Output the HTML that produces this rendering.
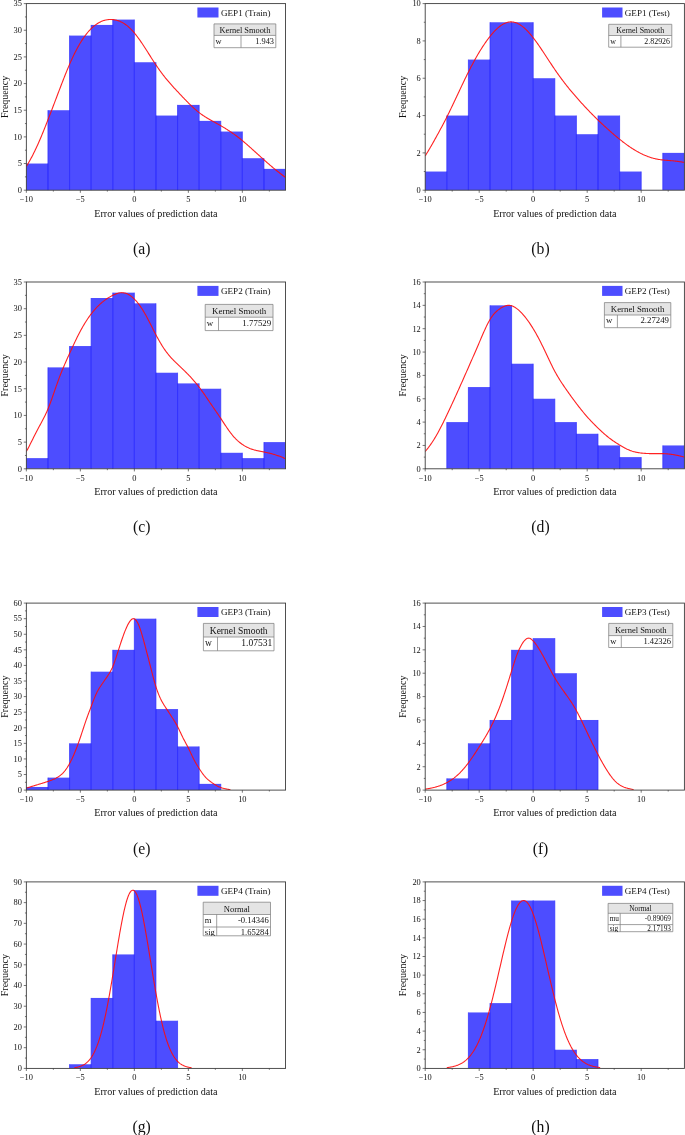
<!DOCTYPE html>
<html><head><meta charset="utf-8"><title>Histograms of prediction errors</title>
<style>
html,body{margin:0;padding:0;background:#fff;}
svg{display:block;will-change:transform;font-family:"Liberation Serif",serif;}
</style></head><body>
<svg width="685" height="1135" viewBox="0 0 685 1135">
<rect width="685" height="1135" fill="#fff"/>
<g>
<clipPath id="ca"><rect x="26.35" y="3.6" width="259.2" height="186.6"/></clipPath>
<g clip-path="url(#ca)">
<rect x="26.35" y="163.54" width="21.6" height="26.66" fill="#4d4dff"/>
<rect x="47.95" y="110.23" width="21.6" height="79.97" fill="#4d4dff"/>
<rect x="69.55" y="35.59" width="21.6" height="154.61" fill="#4d4dff"/>
<rect x="91.15" y="24.93" width="21.6" height="165.27" fill="#4d4dff"/>
<rect x="112.75" y="19.59" width="21.6" height="170.61" fill="#4d4dff"/>
<rect x="134.35" y="62.25" width="21.6" height="127.95" fill="#4d4dff"/>
<rect x="155.95" y="115.56" width="21.6" height="74.64" fill="#4d4dff"/>
<rect x="177.55" y="104.9" width="21.6" height="85.3" fill="#4d4dff"/>
<rect x="199.15" y="120.89" width="21.6" height="69.31" fill="#4d4dff"/>
<rect x="220.75" y="131.55" width="21.6" height="58.65" fill="#4d4dff"/>
<rect x="242.35" y="158.21" width="21.6" height="31.99" fill="#4d4dff"/>
<rect x="263.95" y="168.87" width="21.6" height="21.33" fill="#4d4dff"/>
<path d="M26.35 190.2V163.54M47.95 190.2V163.54M47.95 190.2V110.23M69.55 190.2V110.23M69.55 190.2V35.59M91.15 190.2V35.59M91.15 190.2V24.93M112.75 190.2V24.93M112.75 190.2V19.59M134.35 190.2V19.59M134.35 190.2V62.25M155.95 190.2V62.25M155.95 190.2V115.56M177.55 190.2V115.56M177.55 190.2V104.9M199.15 190.2V104.9M199.15 190.2V120.89M220.75 190.2V120.89M220.75 190.2V131.55M242.35 190.2V131.55M242.35 190.2V158.21M263.95 190.2V158.21M263.95 190.2V168.87M285.55 190.2V168.87" stroke="#2b2bff" stroke-width="0.7" fill="none"/>
<path d="M26.35 166.48 L27 165.41 L27.65 164.33 L28.3 163.23 L28.95 162.1 L29.6 160.96 L30.25 159.79 L30.9 158.59 L31.55 157.38 L32.2 156.14 L32.85 154.88 L33.5 153.6 L34.15 152.29 L34.8 150.96 L35.44 149.61 L36.09 148.24 L36.74 146.84 L37.39 145.42 L38.04 143.97 L38.69 142.51 L39.34 141.02 L39.99 139.51 L40.64 137.99 L41.29 136.44 L41.94 134.88 L42.59 133.31 L43.24 131.71 L43.89 130.11 L44.54 128.49 L45.19 126.86 L45.84 125.22 L46.49 123.57 L47.14 121.91 L47.79 120.24 L48.44 118.57 L49.09 116.9 L49.74 115.21 L50.39 113.53 L51.04 111.84 L51.69 110.14 L52.33 108.44 L52.98 106.74 L53.63 105.04 L54.28 103.33 L54.93 101.62 L55.58 99.91 L56.23 98.2 L56.88 96.49 L57.53 94.78 L58.18 93.06 L58.83 91.35 L59.48 89.65 L60.13 87.94 L60.78 86.24 L61.43 84.55 L62.08 82.86 L62.73 81.18 L63.38 79.51 L64.03 77.85 L64.68 76.2 L65.33 74.57 L65.98 72.95 L66.63 71.35 L67.28 69.77 L67.93 68.2 L68.58 66.65 L69.23 65.13 L69.87 63.63 L70.52 62.15 L71.17 60.7 L71.82 59.26 L72.47 57.86 L73.12 56.48 L73.77 55.12 L74.42 53.79 L75.07 52.49 L75.72 51.21 L76.37 49.95 L77.02 48.73 L77.67 47.53 L78.32 46.36 L78.97 45.21 L79.62 44.09 L80.27 43 L80.92 41.93 L81.57 40.89 L82.22 39.88 L82.87 38.9 L83.52 37.94 L84.17 37.01 L84.82 36.1 L85.47 35.23 L86.12 34.38 L86.77 33.55 L87.41 32.75 L88.06 31.98 L88.71 31.23 L89.36 30.51 L90.01 29.82 L90.66 29.14 L91.31 28.5 L91.96 27.87 L92.61 27.27 L93.26 26.7 L93.91 26.14 L94.56 25.62 L95.21 25.11 L95.86 24.63 L96.51 24.17 L97.16 23.74 L97.81 23.32 L98.46 22.93 L99.11 22.56 L99.76 22.22 L100.41 21.89 L101.06 21.59 L101.71 21.31 L102.36 21.05 L103.01 20.81 L103.66 20.59 L104.3 20.39 L104.95 20.22 L105.6 20.06 L106.25 19.92 L106.9 19.81 L107.55 19.71 L108.2 19.63 L108.85 19.57 L109.5 19.53 L110.15 19.5 L110.8 19.5 L111.45 19.51 L112.1 19.55 L112.75 19.59 L113.4 19.66 L114.05 19.74 L114.7 19.85 L115.35 19.97 L116 20.11 L116.65 20.27 L117.3 20.44 L117.95 20.64 L118.6 20.86 L119.25 21.1 L119.9 21.36 L120.55 21.64 L121.2 21.94 L121.84 22.27 L122.49 22.61 L123.14 22.98 L123.79 23.37 L124.44 23.79 L125.09 24.22 L125.74 24.68 L126.39 25.16 L127.04 25.67 L127.69 26.19 L128.34 26.74 L128.99 27.32 L129.64 27.91 L130.29 28.53 L130.94 29.17 L131.59 29.84 L132.24 30.53 L132.89 31.24 L133.54 31.97 L134.19 32.73 L134.84 33.51 L135.49 34.31 L136.14 35.13 L136.79 35.97 L137.44 36.83 L138.09 37.7 L138.73 38.6 L139.38 39.5 L140.03 40.43 L140.68 41.37 L141.33 42.32 L141.98 43.28 L142.63 44.26 L143.28 45.24 L143.93 46.23 L144.58 47.23 L145.23 48.24 L145.88 49.25 L146.53 50.27 L147.18 51.29 L147.83 52.31 L148.48 53.34 L149.13 54.36 L149.78 55.39 L150.43 56.41 L151.08 57.43 L151.73 58.45 L152.38 59.46 L153.03 60.47 L153.68 61.47 L154.33 62.47 L154.98 63.45 L155.63 64.43 L156.27 65.4 L156.92 66.35 L157.57 67.3 L158.22 68.23 L158.87 69.16 L159.52 70.07 L160.17 70.97 L160.82 71.87 L161.47 72.75 L162.12 73.61 L162.77 74.47 L163.42 75.32 L164.07 76.15 L164.72 76.98 L165.37 77.79 L166.02 78.6 L166.67 79.39 L167.32 80.17 L167.97 80.95 L168.62 81.71 L169.27 82.47 L169.92 83.21 L170.57 83.95 L171.22 84.69 L171.87 85.41 L172.52 86.13 L173.17 86.84 L173.81 87.55 L174.46 88.26 L175.11 88.96 L175.76 89.66 L176.41 90.35 L177.06 91.05 L177.71 91.74 L178.36 92.44 L179.01 93.13 L179.66 93.82 L180.31 94.52 L180.96 95.21 L181.61 95.9 L182.26 96.58 L182.91 97.27 L183.56 97.95 L184.21 98.63 L184.86 99.3 L185.51 99.98 L186.16 100.64 L186.81 101.31 L187.46 101.97 L188.11 102.62 L188.76 103.27 L189.41 103.92 L190.06 104.55 L190.7 105.18 L191.35 105.81 L192 106.43 L192.65 107.04 L193.3 107.64 L193.95 108.23 L194.6 108.82 L195.25 109.39 L195.9 109.96 L196.55 110.52 L197.2 111.06 L197.85 111.6 L198.5 112.12 L199.15 112.63 L199.8 113.12 L200.45 113.61 L201.1 114.08 L201.75 114.54 L202.4 115 L203.05 115.44 L203.7 115.87 L204.35 116.29 L205 116.71 L205.65 117.12 L206.3 117.52 L206.95 117.91 L207.6 118.3 L208.24 118.69 L208.89 119.07 L209.54 119.44 L210.19 119.81 L210.84 120.18 L211.49 120.54 L212.14 120.91 L212.79 121.27 L213.44 121.63 L214.09 121.98 L214.74 122.34 L215.39 122.7 L216.04 123.05 L216.69 123.41 L217.34 123.77 L217.99 124.13 L218.64 124.49 L219.29 124.86 L219.94 125.23 L220.59 125.6 L221.24 125.97 L221.89 126.35 L222.54 126.73 L223.19 127.11 L223.84 127.5 L224.49 127.9 L225.13 128.3 L225.78 128.7 L226.43 129.1 L227.08 129.52 L227.73 129.93 L228.38 130.35 L229.03 130.78 L229.68 131.21 L230.33 131.64 L230.98 132.08 L231.63 132.53 L232.28 132.98 L232.93 133.43 L233.58 133.89 L234.23 134.36 L234.88 134.83 L235.53 135.3 L236.18 135.78 L236.83 136.27 L237.48 136.76 L238.13 137.26 L238.78 137.76 L239.43 138.27 L240.08 138.78 L240.73 139.3 L241.38 139.82 L242.03 140.35 L242.67 140.89 L243.32 141.43 L243.97 141.97 L244.62 142.52 L245.27 143.07 L245.92 143.63 L246.57 144.19 L247.22 144.76 L247.87 145.33 L248.52 145.9 L249.17 146.48 L249.82 147.05 L250.47 147.63 L251.12 148.21 L251.77 148.8 L252.42 149.38 L253.07 149.97 L253.72 150.56 L254.37 151.15 L255.02 151.74 L255.67 152.33 L256.32 152.92 L256.97 153.51 L257.62 154.1 L258.27 154.69 L258.92 155.28 L259.57 155.87 L260.21 156.46 L260.86 157.04 L261.51 157.63 L262.16 158.21 L262.81 158.8 L263.46 159.38 L264.11 159.96 L264.76 160.53 L265.41 161.11 L266.06 161.68 L266.71 162.25 L267.36 162.82 L268.01 163.38 L268.66 163.95 L269.31 164.51 L269.96 165.06 L270.61 165.62 L271.26 166.17 L271.91 166.72 L272.56 167.27 L273.21 167.81 L273.86 168.35 L274.51 168.89 L275.16 169.42 L275.81 169.95 L276.46 170.48 L277.1 171 L277.75 171.52 L278.4 172.03 L279.05 172.54 L279.7 173.05 L280.35 173.55 L281 174.05 L281.65 174.55 L282.3 175.03 L282.95 175.52 L283.6 176 L284.25 176.47 L284.9 176.94 L285.55 177.4" fill="none" stroke="#ff0a0a" stroke-opacity="0.9" stroke-width="1.1"/>
</g>
<rect x="26.35" y="3.6" width="259.2" height="186.6" fill="none" stroke="#3c3c3c" stroke-width="0.9"/>
<path d="M26.35 190.2h-2.6M26.35 176.87h-1.4M26.35 163.54h-2.6M26.35 150.21h-1.4M26.35 136.89h-2.6M26.35 123.56h-1.4M26.35 110.23h-2.6M26.35 96.9h-1.4M26.35 83.57h-2.6M26.35 70.24h-1.4M26.35 56.91h-2.6M26.35 43.59h-1.4M26.35 30.26h-2.6M26.35 16.93h-1.4M26.35 3.6h-2.6M26.35 190.2v2.6M53.35 190.2v1.4M80.35 190.2v2.6M107.35 190.2v1.4M134.35 190.2v2.6M161.35 190.2v1.4M188.35 190.2v2.6M215.35 190.2v1.4M242.35 190.2v2.6M269.35 190.2v1.4" stroke="#3c3c3c" stroke-width="0.7" fill="none"/>
<g font-size="8.4" fill="#111">
<text x="21.95" y="193" text-anchor="end">0</text>
<text x="21.95" y="166.34" text-anchor="end">5</text>
<text x="21.95" y="139.69" text-anchor="end">10</text>
<text x="21.95" y="113.03" text-anchor="end">15</text>
<text x="21.95" y="86.37" text-anchor="end">20</text>
<text x="21.95" y="59.71" text-anchor="end">25</text>
<text x="21.95" y="33.06" text-anchor="end">30</text>
<text x="21.95" y="6.4" text-anchor="end">35</text>
<text x="26.35" y="202" text-anchor="middle">−10</text>
<text x="80.35" y="202" text-anchor="middle">−5</text>
<text x="134.35" y="202" text-anchor="middle">0</text>
<text x="188.35" y="202" text-anchor="middle">5</text>
<text x="242.35" y="202" text-anchor="middle">10</text>
</g>
<text x="155.95" y="216.5" font-size="10.1" text-anchor="middle" fill="#111">Error values of prediction data</text>
<text transform="translate(8.15 96.9) rotate(-90)" font-size="10" text-anchor="middle" fill="#111">Frequency</text>
<text x="141.7" y="253.6" font-size="15.7" text-anchor="middle" fill="#111">(a)</text>
<rect x="197.4" y="7.5" width="21.1" height="10" fill="#4d4dff"/>
<text x="221" y="15.6" font-size="9.1" fill="#111">GEP1 (Train)</text>
<rect x="214" y="23.9" width="61.8" height="23.8" fill="#fff"/>
<rect x="214" y="23.9" width="61.8" height="11.5" fill="#e4e4e4"/>
<path d="M214 23.9H275.8V47.7H214ZM214 35.4H275.8M241 35.4V47.7" stroke="#808080" stroke-width="0.75" fill="none"/>
<clipPath id="tca"><rect x="214" y="23.9" width="61.8" height="24.1"/></clipPath>
<g font-size="8.4" fill="#111" clip-path="url(#tca)">
<text x="244.9" y="33.25" text-anchor="middle">Kernel Smooth</text>
<text x="215.6" y="44.15">w</text>
<text x="274" y="44.15" text-anchor="end">1.943</text>
</g>
</g>
<g>
<clipPath id="cb"><rect x="425.2" y="3.6" width="259.2" height="186.6"/></clipPath>
<g clip-path="url(#cb)">
<rect x="425.2" y="171.54" width="21.6" height="18.66" fill="#4d4dff"/>
<rect x="446.8" y="115.56" width="21.6" height="74.64" fill="#4d4dff"/>
<rect x="468.4" y="59.58" width="21.6" height="130.62" fill="#4d4dff"/>
<rect x="490" y="22.26" width="21.6" height="167.94" fill="#4d4dff"/>
<rect x="511.6" y="22.26" width="21.6" height="167.94" fill="#4d4dff"/>
<rect x="533.2" y="78.24" width="21.6" height="111.96" fill="#4d4dff"/>
<rect x="554.8" y="115.56" width="21.6" height="74.64" fill="#4d4dff"/>
<rect x="576.4" y="134.22" width="21.6" height="55.98" fill="#4d4dff"/>
<rect x="598" y="115.56" width="21.6" height="74.64" fill="#4d4dff"/>
<rect x="619.6" y="171.54" width="21.6" height="18.66" fill="#4d4dff"/>
<rect x="662.8" y="152.88" width="21.6" height="37.32" fill="#4d4dff"/>
<path d="M425.2 190.2V171.54M446.8 190.2V171.54M446.8 190.2V115.56M468.4 190.2V115.56M468.4 190.2V59.58M490 190.2V59.58M490 190.2V22.26M511.6 190.2V22.26M511.6 190.2V22.26M533.2 190.2V22.26M533.2 190.2V78.24M554.8 190.2V78.24M554.8 190.2V115.56M576.4 190.2V115.56M576.4 190.2V134.22M598 190.2V134.22M598 190.2V115.56M619.6 190.2V115.56M619.6 190.2V171.54M641.2 190.2V171.54M662.8 190.2V152.88M684.4 190.2V152.88" stroke="#2b2bff" stroke-width="0.7" fill="none"/>
<path d="M425.2 155.87 L425.85 154.84 L426.5 153.8 L427.15 152.75 L427.8 151.69 L428.45 150.61 L429.1 149.52 L429.75 148.42 L430.4 147.31 L431.05 146.19 L431.7 145.06 L432.35 143.92 L433 142.77 L433.65 141.62 L434.29 140.46 L434.94 139.3 L435.59 138.13 L436.24 136.95 L436.89 135.78 L437.54 134.59 L438.19 133.41 L438.84 132.22 L439.49 131.02 L440.14 129.82 L440.79 128.61 L441.44 127.39 L442.09 126.17 L442.74 124.94 L443.39 123.7 L444.04 122.46 L444.69 121.2 L445.34 119.94 L445.99 118.66 L446.64 117.38 L447.29 116.08 L447.94 114.78 L448.59 113.46 L449.24 112.14 L449.89 110.81 L450.54 109.47 L451.18 108.13 L451.83 106.78 L452.48 105.42 L453.13 104.05 L453.78 102.69 L454.43 101.32 L455.08 99.94 L455.73 98.56 L456.38 97.18 L457.03 95.8 L457.68 94.42 L458.33 93.04 L458.98 91.65 L459.63 90.27 L460.28 88.89 L460.93 87.52 L461.58 86.14 L462.23 84.77 L462.88 83.41 L463.53 82.05 L464.18 80.69 L464.83 79.35 L465.48 78.01 L466.13 76.67 L466.78 75.35 L467.43 74.03 L468.08 72.73 L468.72 71.44 L469.37 70.15 L470.02 68.88 L470.67 67.62 L471.32 66.37 L471.97 65.14 L472.62 63.91 L473.27 62.7 L473.92 61.5 L474.57 60.32 L475.22 59.14 L475.87 57.98 L476.52 56.84 L477.17 55.71 L477.82 54.59 L478.47 53.49 L479.12 52.4 L479.77 51.32 L480.42 50.26 L481.07 49.22 L481.72 48.19 L482.37 47.17 L483.02 46.17 L483.67 45.19 L484.32 44.22 L484.97 43.27 L485.62 42.33 L486.26 41.41 L486.91 40.51 L487.56 39.62 L488.21 38.75 L488.86 37.9 L489.51 37.06 L490.16 36.24 L490.81 35.43 L491.46 34.64 L492.11 33.87 L492.76 33.12 L493.41 32.39 L494.06 31.68 L494.71 30.99 L495.36 30.32 L496.01 29.67 L496.66 29.04 L497.31 28.44 L497.96 27.86 L498.61 27.3 L499.26 26.77 L499.91 26.26 L500.56 25.78 L501.21 25.33 L501.86 24.9 L502.51 24.49 L503.15 24.12 L503.8 23.77 L504.45 23.45 L505.1 23.16 L505.75 22.9 L506.4 22.67 L507.05 22.46 L507.7 22.29 L508.35 22.14 L509 22.03 L509.65 21.95 L510.3 21.9 L510.95 21.88 L511.6 21.89 L512.25 21.93 L512.9 22 L513.55 22.11 L514.2 22.24 L514.85 22.41 L515.5 22.6 L516.15 22.83 L516.8 23.08 L517.45 23.37 L518.1 23.68 L518.75 24.02 L519.4 24.39 L520.05 24.78 L520.69 25.2 L521.34 25.65 L521.99 26.12 L522.64 26.62 L523.29 27.14 L523.94 27.69 L524.59 28.26 L525.24 28.85 L525.89 29.46 L526.54 30.1 L527.19 30.76 L527.84 31.44 L528.49 32.14 L529.14 32.85 L529.79 33.59 L530.44 34.35 L531.09 35.12 L531.74 35.91 L532.39 36.72 L533.04 37.54 L533.69 38.38 L534.34 39.23 L534.99 40.09 L535.64 40.97 L536.29 41.86 L536.94 42.76 L537.58 43.68 L538.23 44.6 L538.88 45.54 L539.53 46.48 L540.18 47.43 L540.83 48.38 L541.48 49.35 L542.13 50.32 L542.78 51.29 L543.43 52.27 L544.08 53.26 L544.73 54.24 L545.38 55.23 L546.03 56.23 L546.68 57.22 L547.33 58.21 L547.98 59.21 L548.63 60.2 L549.28 61.19 L549.93 62.18 L550.58 63.16 L551.23 64.15 L551.88 65.13 L552.53 66.1 L553.18 67.07 L553.83 68.04 L554.48 68.99 L555.12 69.94 L555.77 70.89 L556.42 71.83 L557.07 72.76 L557.72 73.68 L558.37 74.59 L559.02 75.5 L559.67 76.4 L560.32 77.29 L560.97 78.18 L561.62 79.06 L562.27 79.93 L562.92 80.79 L563.57 81.65 L564.22 82.5 L564.87 83.34 L565.52 84.18 L566.17 85 L566.82 85.83 L567.47 86.64 L568.12 87.45 L568.77 88.25 L569.42 89.05 L570.07 89.84 L570.72 90.62 L571.37 91.4 L572.02 92.17 L572.66 92.94 L573.31 93.71 L573.96 94.46 L574.61 95.22 L575.26 95.97 L575.91 96.72 L576.56 97.46 L577.21 98.2 L577.86 98.94 L578.51 99.67 L579.16 100.4 L579.81 101.12 L580.46 101.85 L581.11 102.57 L581.76 103.28 L582.41 103.99 L583.06 104.7 L583.71 105.41 L584.36 106.11 L585.01 106.81 L585.66 107.5 L586.31 108.19 L586.96 108.88 L587.61 109.56 L588.26 110.24 L588.91 110.92 L589.55 111.59 L590.2 112.26 L590.85 112.93 L591.5 113.59 L592.15 114.25 L592.8 114.91 L593.45 115.56 L594.1 116.21 L594.75 116.86 L595.4 117.5 L596.05 118.14 L596.7 118.78 L597.35 119.41 L598 120.04 L598.65 120.66 L599.3 121.29 L599.95 121.91 L600.6 122.52 L601.25 123.14 L601.9 123.75 L602.55 124.36 L603.2 124.96 L603.85 125.56 L604.5 126.16 L605.15 126.76 L605.8 127.35 L606.45 127.94 L607.09 128.53 L607.74 129.11 L608.39 129.7 L609.04 130.28 L609.69 130.85 L610.34 131.43 L610.99 132 L611.64 132.57 L612.29 133.13 L612.94 133.69 L613.59 134.25 L614.24 134.81 L614.89 135.36 L615.54 135.91 L616.19 136.46 L616.84 137 L617.49 137.54 L618.14 138.07 L618.79 138.6 L619.44 139.13 L620.09 139.65 L620.74 140.17 L621.39 140.68 L622.04 141.19 L622.69 141.69 L623.34 142.19 L623.98 142.69 L624.63 143.18 L625.28 143.66 L625.93 144.14 L626.58 144.61 L627.23 145.08 L627.88 145.54 L628.53 146 L629.18 146.45 L629.83 146.9 L630.48 147.34 L631.13 147.77 L631.78 148.2 L632.43 148.62 L633.08 149.03 L633.73 149.44 L634.38 149.84 L635.03 150.23 L635.68 150.62 L636.33 151 L636.98 151.37 L637.63 151.74 L638.28 152.1 L638.93 152.45 L639.58 152.8 L640.23 153.13 L640.88 153.46 L641.52 153.79 L642.17 154.1 L642.82 154.41 L643.47 154.72 L644.12 155.01 L644.77 155.3 L645.42 155.57 L646.07 155.84 L646.72 156.11 L647.37 156.36 L648.02 156.61 L648.67 156.84 L649.32 157.07 L649.97 157.29 L650.62 157.5 L651.27 157.7 L651.92 157.9 L652.57 158.08 L653.22 158.25 L653.87 158.42 L654.52 158.58 L655.17 158.73 L655.82 158.87 L656.47 159.01 L657.12 159.13 L657.77 159.25 L658.42 159.37 L659.06 159.47 L659.71 159.57 L660.36 159.67 L661.01 159.76 L661.66 159.84 L662.31 159.92 L662.96 159.99 L663.61 160.06 L664.26 160.12 L664.91 160.18 L665.56 160.24 L666.21 160.29 L666.86 160.34 L667.51 160.39 L668.16 160.44 L668.81 160.49 L669.46 160.54 L670.11 160.59 L670.76 160.65 L671.41 160.7 L672.06 160.76 L672.71 160.82 L673.36 160.88 L674.01 160.95 L674.66 161.02 L675.31 161.09 L675.95 161.17 L676.6 161.25 L677.25 161.34 L677.9 161.42 L678.55 161.51 L679.2 161.61 L679.85 161.7 L680.5 161.8 L681.15 161.89 L681.8 161.99 L682.45 162.09 L683.1 162.19 L683.75 162.3 L684.4 162.4" fill="none" stroke="#ff0a0a" stroke-opacity="0.9" stroke-width="1.1"/>
</g>
<rect x="425.2" y="3.6" width="259.2" height="186.6" fill="none" stroke="#3c3c3c" stroke-width="0.9"/>
<path d="M425.2 190.2h-2.6M425.2 171.54h-1.4M425.2 152.88h-2.6M425.2 134.22h-1.4M425.2 115.56h-2.6M425.2 96.9h-1.4M425.2 78.24h-2.6M425.2 59.58h-1.4M425.2 40.92h-2.6M425.2 22.26h-1.4M425.2 3.6h-2.6M425.2 190.2v2.6M452.2 190.2v1.4M479.2 190.2v2.6M506.2 190.2v1.4M533.2 190.2v2.6M560.2 190.2v1.4M587.2 190.2v2.6M614.2 190.2v1.4M641.2 190.2v2.6M668.2 190.2v1.4" stroke="#3c3c3c" stroke-width="0.7" fill="none"/>
<g font-size="8.4" fill="#111">
<text x="420.8" y="193" text-anchor="end">0</text>
<text x="420.8" y="155.68" text-anchor="end">2</text>
<text x="420.8" y="118.36" text-anchor="end">4</text>
<text x="420.8" y="81.04" text-anchor="end">6</text>
<text x="420.8" y="43.72" text-anchor="end">8</text>
<text x="420.8" y="6.4" text-anchor="end">10</text>
<text x="425.2" y="202" text-anchor="middle">−10</text>
<text x="479.2" y="202" text-anchor="middle">−5</text>
<text x="533.2" y="202" text-anchor="middle">0</text>
<text x="587.2" y="202" text-anchor="middle">5</text>
<text x="641.2" y="202" text-anchor="middle">10</text>
</g>
<text x="554.8" y="216.5" font-size="10.1" text-anchor="middle" fill="#111">Error values of prediction data</text>
<text transform="translate(405.8 96.9) rotate(-90)" font-size="10" text-anchor="middle" fill="#111">Frequency</text>
<text x="540.5" y="253.6" font-size="15.7" text-anchor="middle" fill="#111">(b)</text>
<rect x="602.1" y="7.5" width="20.4" height="10" fill="#4d4dff"/>
<text x="624.8" y="15.6" font-size="9.1" fill="#111">GEP1 (Test)</text>
<rect x="608.7" y="24.3" width="63.1" height="22.9" fill="#fff"/>
<rect x="608.7" y="24.3" width="63.1" height="11.2" fill="#e4e4e4"/>
<path d="M608.7 24.3H671.8V47.2H608.7ZM608.7 35.5H671.8M620.9 35.5V47.2" stroke="#808080" stroke-width="0.75" fill="none"/>
<clipPath id="tcb"><rect x="608.7" y="24.3" width="63.1" height="23.2"/></clipPath>
<g font-size="7.9" fill="#111" clip-path="url(#tcb)">
<text x="640.25" y="33.35" text-anchor="middle">Kernel Smooth</text>
<text x="610.3" y="43.8">w</text>
<text x="670" y="43.8" text-anchor="end">2.82926</text>
</g>
</g>
<g>
<clipPath id="cc"><rect x="26.35" y="282" width="259.2" height="186.8"/></clipPath>
<g clip-path="url(#cc)">
<rect x="26.35" y="458.13" width="21.6" height="10.67" fill="#4d4dff"/>
<rect x="47.95" y="367.39" width="21.6" height="101.41" fill="#4d4dff"/>
<rect x="69.55" y="346.05" width="21.6" height="122.75" fill="#4d4dff"/>
<rect x="91.15" y="298.01" width="21.6" height="170.79" fill="#4d4dff"/>
<rect x="112.75" y="292.67" width="21.6" height="176.13" fill="#4d4dff"/>
<rect x="134.35" y="303.35" width="21.6" height="165.45" fill="#4d4dff"/>
<rect x="155.95" y="372.73" width="21.6" height="96.07" fill="#4d4dff"/>
<rect x="177.55" y="383.41" width="21.6" height="85.39" fill="#4d4dff"/>
<rect x="199.15" y="388.74" width="21.6" height="80.06" fill="#4d4dff"/>
<rect x="220.75" y="452.79" width="21.6" height="16.01" fill="#4d4dff"/>
<rect x="242.35" y="458.13" width="21.6" height="10.67" fill="#4d4dff"/>
<rect x="263.95" y="442.11" width="21.6" height="26.69" fill="#4d4dff"/>
<path d="M26.35 468.8V458.13M47.95 468.8V458.13M47.95 468.8V367.39M69.55 468.8V367.39M69.55 468.8V346.05M91.15 468.8V346.05M91.15 468.8V298.01M112.75 468.8V298.01M112.75 468.8V292.67M134.35 468.8V292.67M134.35 468.8V303.35M155.95 468.8V303.35M155.95 468.8V372.73M177.55 468.8V372.73M177.55 468.8V383.41M199.15 468.8V383.41M199.15 468.8V388.74M220.75 468.8V388.74M220.75 468.8V452.79M242.35 468.8V452.79M242.35 468.8V458.13M263.95 468.8V458.13M263.95 468.8V442.11M285.55 468.8V442.11" stroke="#2b2bff" stroke-width="0.7" fill="none"/>
<path d="M26.35 451.51 L27 450.33 L27.65 449.12 L28.3 447.89 L28.95 446.64 L29.6 445.38 L30.25 444.1 L30.9 442.8 L31.55 441.5 L32.2 440.2 L32.85 438.89 L33.5 437.58 L34.15 436.27 L34.8 434.97 L35.44 433.68 L36.09 432.41 L36.74 431.15 L37.39 429.91 L38.04 428.7 L38.69 427.5 L39.34 426.3 L39.99 425.12 L40.64 423.93 L41.29 422.74 L41.94 421.54 L42.59 420.32 L43.24 419.08 L43.89 417.81 L44.54 416.52 L45.19 415.19 L45.84 413.82 L46.49 412.4 L47.14 410.94 L47.79 409.41 L48.44 407.83 L49.09 406.2 L49.74 404.51 L50.39 402.77 L51.04 401 L51.69 399.2 L52.33 397.37 L52.98 395.52 L53.63 393.65 L54.28 391.78 L54.93 389.9 L55.58 388.03 L56.23 386.17 L56.88 384.32 L57.53 382.49 L58.18 380.69 L58.83 378.92 L59.48 377.18 L60.13 375.48 L60.78 373.81 L61.43 372.18 L62.08 370.57 L62.73 368.99 L63.38 367.44 L64.03 365.91 L64.68 364.4 L65.33 362.91 L65.98 361.43 L66.63 359.97 L67.28 358.52 L67.93 357.08 L68.58 355.65 L69.23 354.23 L69.87 352.8 L70.52 351.38 L71.17 349.97 L71.82 348.56 L72.47 347.15 L73.12 345.75 L73.77 344.36 L74.42 342.98 L75.07 341.62 L75.72 340.26 L76.37 338.92 L77.02 337.6 L77.67 336.29 L78.32 335 L78.97 333.73 L79.62 332.48 L80.27 331.25 L80.92 330.05 L81.57 328.87 L82.22 327.71 L82.87 326.58 L83.52 325.47 L84.17 324.38 L84.82 323.31 L85.47 322.27 L86.12 321.24 L86.77 320.24 L87.41 319.26 L88.06 318.3 L88.71 317.36 L89.36 316.44 L90.01 315.54 L90.66 314.67 L91.31 313.81 L91.96 312.97 L92.61 312.16 L93.26 311.36 L93.91 310.58 L94.56 309.82 L95.21 309.08 L95.86 308.36 L96.51 307.66 L97.16 306.98 L97.81 306.31 L98.46 305.66 L99.11 305.03 L99.76 304.42 L100.41 303.82 L101.06 303.24 L101.71 302.68 L102.36 302.13 L103.01 301.6 L103.66 301.09 L104.3 300.59 L104.95 300.1 L105.6 299.63 L106.25 299.18 L106.9 298.74 L107.55 298.31 L108.2 297.9 L108.85 297.49 L109.5 297.11 L110.15 296.73 L110.8 296.37 L111.45 296.01 L112.1 295.67 L112.75 295.34 L113.4 295.02 L114.05 294.72 L114.7 294.42 L115.35 294.14 L116 293.88 L116.65 293.64 L117.3 293.43 L117.95 293.23 L118.6 293.06 L119.25 292.92 L119.9 292.81 L120.55 292.73 L121.2 292.68 L121.84 292.67 L122.49 292.69 L123.14 292.74 L123.79 292.84 L124.44 292.96 L125.09 293.12 L125.74 293.32 L126.39 293.55 L127.04 293.82 L127.69 294.12 L128.34 294.45 L128.99 294.81 L129.64 295.21 L130.29 295.65 L130.94 296.11 L131.59 296.61 L132.24 297.14 L132.89 297.7 L133.54 298.29 L134.19 298.92 L134.84 299.57 L135.49 300.25 L136.14 300.97 L136.79 301.72 L137.44 302.49 L138.09 303.3 L138.73 304.14 L139.38 305.01 L140.03 305.91 L140.68 306.84 L141.33 307.79 L141.98 308.78 L142.63 309.8 L143.28 310.85 L143.93 311.93 L144.58 313.03 L145.23 314.17 L145.88 315.33 L146.53 316.51 L147.18 317.72 L147.83 318.95 L148.48 320.19 L149.13 321.45 L149.78 322.72 L150.43 324 L151.08 325.28 L151.73 326.57 L152.38 327.86 L153.03 329.15 L153.68 330.43 L154.33 331.7 L154.98 332.97 L155.63 334.22 L156.27 335.45 L156.92 336.67 L157.57 337.87 L158.22 339.05 L158.87 340.2 L159.52 341.34 L160.17 342.46 L160.82 343.55 L161.47 344.63 L162.12 345.68 L162.77 346.7 L163.42 347.7 L164.07 348.68 L164.72 349.64 L165.37 350.56 L166.02 351.47 L166.67 352.34 L167.32 353.19 L167.97 354.02 L168.62 354.82 L169.27 355.6 L169.92 356.36 L170.57 357.1 L171.22 357.82 L171.87 358.53 L172.52 359.22 L173.17 359.89 L173.81 360.55 L174.46 361.2 L175.11 361.84 L175.76 362.47 L176.41 363.1 L177.06 363.73 L177.71 364.35 L178.36 364.97 L179.01 365.59 L179.66 366.21 L180.31 366.84 L180.96 367.46 L181.61 368.08 L182.26 368.71 L182.91 369.33 L183.56 369.96 L184.21 370.59 L184.86 371.23 L185.51 371.87 L186.16 372.51 L186.81 373.16 L187.46 373.81 L188.11 374.47 L188.76 375.13 L189.41 375.81 L190.06 376.49 L190.7 377.18 L191.35 377.87 L192 378.58 L192.65 379.3 L193.3 380.03 L193.95 380.77 L194.6 381.52 L195.25 382.28 L195.9 383.06 L196.55 383.85 L197.2 384.65 L197.85 385.47 L198.5 386.3 L199.15 387.14 L199.8 388 L200.45 388.88 L201.1 389.76 L201.75 390.66 L202.4 391.57 L203.05 392.5 L203.7 393.43 L204.35 394.36 L205 395.31 L205.65 396.26 L206.3 397.22 L206.95 398.18 L207.6 399.14 L208.24 400.1 L208.89 401.06 L209.54 402.02 L210.19 402.98 L210.84 403.92 L211.49 404.87 L212.14 405.81 L212.79 406.75 L213.44 407.69 L214.09 408.63 L214.74 409.57 L215.39 410.51 L216.04 411.46 L216.69 412.4 L217.34 413.35 L217.99 414.31 L218.64 415.27 L219.29 416.23 L219.94 417.2 L220.59 418.17 L221.24 419.15 L221.89 420.14 L222.54 421.13 L223.19 422.12 L223.84 423.11 L224.49 424.1 L225.13 425.08 L225.78 426.06 L226.43 427.03 L227.08 427.98 L227.73 428.93 L228.38 429.85 L229.03 430.77 L229.68 431.66 L230.33 432.53 L230.98 433.38 L231.63 434.21 L232.28 435.01 L232.93 435.79 L233.58 436.54 L234.23 437.27 L234.88 437.97 L235.53 438.65 L236.18 439.3 L236.83 439.93 L237.48 440.54 L238.13 441.12 L238.78 441.69 L239.43 442.23 L240.08 442.75 L240.73 443.25 L241.38 443.73 L242.03 444.19 L242.67 444.63 L243.32 445.06 L243.97 445.47 L244.62 445.86 L245.27 446.24 L245.92 446.59 L246.57 446.94 L247.22 447.26 L247.87 447.58 L248.52 447.87 L249.17 448.15 L249.82 448.42 L250.47 448.67 L251.12 448.91 L251.77 449.14 L252.42 449.36 L253.07 449.56 L253.72 449.76 L254.37 449.94 L255.02 450.11 L255.67 450.28 L256.32 450.44 L256.97 450.59 L257.62 450.73 L258.27 450.87 L258.92 451.01 L259.57 451.14 L260.21 451.27 L260.86 451.39 L261.51 451.52 L262.16 451.64 L262.81 451.77 L263.46 451.89 L264.11 452.02 L264.76 452.15 L265.41 452.28 L266.06 452.42 L266.71 452.56 L267.36 452.7 L268.01 452.85 L268.66 453 L269.31 453.15 L269.96 453.31 L270.61 453.48 L271.26 453.65 L271.91 453.83 L272.56 454.01 L273.21 454.19 L273.86 454.38 L274.51 454.58 L275.16 454.78 L275.81 454.99 L276.46 455.2 L277.1 455.42 L277.75 455.64 L278.4 455.87 L279.05 456.1 L279.7 456.34 L280.35 456.58 L281 456.83 L281.65 457.08 L282.3 457.34 L282.95 457.61 L283.6 457.88 L284.25 458.15 L284.9 458.43 L285.55 458.71" fill="none" stroke="#ff0a0a" stroke-opacity="0.9" stroke-width="1.1"/>
</g>
<rect x="26.35" y="282" width="259.2" height="186.8" fill="none" stroke="#3c3c3c" stroke-width="0.9"/>
<path d="M26.35 468.8h-2.6M26.35 455.46h-1.4M26.35 442.11h-2.6M26.35 428.77h-1.4M26.35 415.43h-2.6M26.35 402.09h-1.4M26.35 388.74h-2.6M26.35 375.4h-1.4M26.35 362.06h-2.6M26.35 348.71h-1.4M26.35 335.37h-2.6M26.35 322.03h-1.4M26.35 308.69h-2.6M26.35 295.34h-1.4M26.35 282h-2.6M26.35 468.8v2.6M53.35 468.8v1.4M80.35 468.8v2.6M107.35 468.8v1.4M134.35 468.8v2.6M161.35 468.8v1.4M188.35 468.8v2.6M215.35 468.8v1.4M242.35 468.8v2.6M269.35 468.8v1.4" stroke="#3c3c3c" stroke-width="0.7" fill="none"/>
<g font-size="8.4" fill="#111">
<text x="21.95" y="471.6" text-anchor="end">0</text>
<text x="21.95" y="444.91" text-anchor="end">5</text>
<text x="21.95" y="418.23" text-anchor="end">10</text>
<text x="21.95" y="391.54" text-anchor="end">15</text>
<text x="21.95" y="364.86" text-anchor="end">20</text>
<text x="21.95" y="338.17" text-anchor="end">25</text>
<text x="21.95" y="311.49" text-anchor="end">30</text>
<text x="21.95" y="284.8" text-anchor="end">35</text>
<text x="26.35" y="480.6" text-anchor="middle">−10</text>
<text x="80.35" y="480.6" text-anchor="middle">−5</text>
<text x="134.35" y="480.6" text-anchor="middle">0</text>
<text x="188.35" y="480.6" text-anchor="middle">5</text>
<text x="242.35" y="480.6" text-anchor="middle">10</text>
</g>
<text x="155.95" y="495.1" font-size="10.1" text-anchor="middle" fill="#111">Error values of prediction data</text>
<text transform="translate(8.15 375.4) rotate(-90)" font-size="10" text-anchor="middle" fill="#111">Frequency</text>
<text x="141.7" y="532.2" font-size="15.7" text-anchor="middle" fill="#111">(c)</text>
<rect x="197.4" y="285.9" width="21.1" height="10" fill="#4d4dff"/>
<text x="221" y="294" font-size="9.1" fill="#111">GEP2 (Train)</text>
<rect x="205.2" y="304.4" width="67.8" height="26.2" fill="#fff"/>
<rect x="205.2" y="304.4" width="67.8" height="12.8" fill="#e4e4e4"/>
<path d="M205.2 304.4H273V330.6H205.2ZM205.2 317.2H273M218.5 317.2V330.6" stroke="#808080" stroke-width="0.75" fill="none"/>
<clipPath id="tcc"><rect x="205.2" y="304.4" width="67.8" height="26.5"/></clipPath>
<g font-size="8.9" fill="#111" clip-path="url(#tcc)">
<text x="239.1" y="313.86" text-anchor="middle">Kernel Smooth</text>
<text x="206.8" y="325.86">w</text>
<text x="271.2" y="325.86" text-anchor="end">1.77529</text>
</g>
</g>
<g>
<clipPath id="cd"><rect x="425.2" y="282" width="259.2" height="186.8"/></clipPath>
<g clip-path="url(#cd)">
<rect x="446.8" y="422.1" width="21.6" height="46.7" fill="#4d4dff"/>
<rect x="468.4" y="387.07" width="21.6" height="81.73" fill="#4d4dff"/>
<rect x="490" y="305.35" width="21.6" height="163.45" fill="#4d4dff"/>
<rect x="511.6" y="363.73" width="21.6" height="105.08" fill="#4d4dff"/>
<rect x="533.2" y="398.75" width="21.6" height="70.05" fill="#4d4dff"/>
<rect x="554.8" y="422.1" width="21.6" height="46.7" fill="#4d4dff"/>
<rect x="576.4" y="433.77" width="21.6" height="35.03" fill="#4d4dff"/>
<rect x="598" y="445.45" width="21.6" height="23.35" fill="#4d4dff"/>
<rect x="619.6" y="457.12" width="21.6" height="11.68" fill="#4d4dff"/>
<rect x="662.8" y="445.45" width="21.6" height="23.35" fill="#4d4dff"/>
<path d="M446.8 468.8V422.1M468.4 468.8V422.1M468.4 468.8V387.07M490 468.8V387.07M490 468.8V305.35M511.6 468.8V305.35M511.6 468.8V363.73M533.2 468.8V363.73M533.2 468.8V398.75M554.8 468.8V398.75M554.8 468.8V422.1M576.4 468.8V422.1M576.4 468.8V433.77M598 468.8V433.77M598 468.8V445.45M619.6 468.8V445.45M619.6 468.8V457.12M641.2 468.8V457.12M662.8 468.8V445.45M684.4 468.8V445.45" stroke="#2b2bff" stroke-width="0.7" fill="none"/>
<path d="M425.2 451.52 L425.85 450.76 L426.5 449.98 L427.15 449.18 L427.8 448.36 L428.45 447.52 L429.1 446.65 L429.75 445.77 L430.4 444.86 L431.05 443.94 L431.7 442.99 L432.35 442.01 L433 441.02 L433.65 440 L434.29 438.96 L434.94 437.89 L435.59 436.8 L436.24 435.69 L436.89 434.56 L437.54 433.4 L438.19 432.22 L438.84 431.02 L439.49 429.8 L440.14 428.57 L440.79 427.31 L441.44 426.04 L442.09 424.76 L442.74 423.46 L443.39 422.15 L444.04 420.82 L444.69 419.49 L445.34 418.15 L445.99 416.8 L446.64 415.44 L447.29 414.07 L447.94 412.7 L448.59 411.33 L449.24 409.95 L449.89 408.56 L450.54 407.17 L451.18 405.78 L451.83 404.38 L452.48 402.97 L453.13 401.56 L453.78 400.15 L454.43 398.73 L455.08 397.3 L455.73 395.87 L456.38 394.44 L457.03 393 L457.68 391.57 L458.33 390.12 L458.98 388.68 L459.63 387.23 L460.28 385.78 L460.93 384.32 L461.58 382.87 L462.23 381.41 L462.88 379.95 L463.53 378.48 L464.18 377.02 L464.83 375.55 L465.48 374.08 L466.13 372.61 L466.78 371.14 L467.43 369.67 L468.08 368.2 L468.72 366.73 L469.37 365.25 L470.02 363.78 L470.67 362.31 L471.32 360.83 L471.97 359.36 L472.62 357.88 L473.27 356.4 L473.92 354.92 L474.57 353.43 L475.22 351.94 L475.87 350.44 L476.52 348.95 L477.17 347.44 L477.82 345.93 L478.47 344.42 L479.12 342.9 L479.77 341.37 L480.42 339.85 L481.07 338.32 L481.72 336.8 L482.37 335.29 L483.02 333.79 L483.67 332.31 L484.32 330.85 L484.97 329.42 L485.62 328.01 L486.26 326.64 L486.91 325.31 L487.56 324.01 L488.21 322.76 L488.86 321.56 L489.51 320.41 L490.16 319.32 L490.81 318.29 L491.46 317.31 L492.11 316.39 L492.76 315.52 L493.41 314.7 L494.06 313.92 L494.71 313.19 L495.36 312.51 L496.01 311.87 L496.66 311.26 L497.31 310.69 L497.96 310.16 L498.61 309.65 L499.26 309.18 L499.91 308.73 L500.56 308.3 L501.21 307.9 L501.86 307.51 L502.51 307.15 L503.15 306.82 L503.8 306.51 L504.45 306.23 L505.1 305.99 L505.75 305.78 L506.4 305.61 L507.05 305.48 L507.7 305.39 L508.35 305.35 L509 305.35 L509.65 305.4 L510.3 305.49 L510.95 305.62 L511.6 305.79 L512.25 306.01 L512.9 306.26 L513.55 306.56 L514.2 306.89 L514.85 307.26 L515.5 307.67 L516.15 308.11 L516.8 308.58 L517.45 309.09 L518.1 309.63 L518.75 310.19 L519.4 310.79 L520.05 311.41 L520.69 312.06 L521.34 312.73 L521.99 313.42 L522.64 314.14 L523.29 314.88 L523.94 315.63 L524.59 316.41 L525.24 317.21 L525.89 318.03 L526.54 318.87 L527.19 319.73 L527.84 320.62 L528.49 321.52 L529.14 322.44 L529.79 323.39 L530.44 324.35 L531.09 325.34 L531.74 326.35 L532.39 327.38 L533.04 328.43 L533.69 329.51 L534.34 330.6 L534.99 331.72 L535.64 332.85 L536.29 334.01 L536.94 335.18 L537.58 336.37 L538.23 337.58 L538.88 338.81 L539.53 340.05 L540.18 341.31 L540.83 342.59 L541.48 343.88 L542.13 345.18 L542.78 346.5 L543.43 347.84 L544.08 349.18 L544.73 350.54 L545.38 351.91 L546.03 353.29 L546.68 354.67 L547.33 356.06 L547.98 357.44 L548.63 358.82 L549.28 360.2 L549.93 361.57 L550.58 362.93 L551.23 364.27 L551.88 365.6 L552.53 366.91 L553.18 368.2 L553.83 369.46 L554.48 370.7 L555.12 371.92 L555.77 373.1 L556.42 374.26 L557.07 375.39 L557.72 376.5 L558.37 377.59 L559.02 378.65 L559.67 379.7 L560.32 380.72 L560.97 381.73 L561.62 382.73 L562.27 383.71 L562.92 384.68 L563.57 385.64 L564.22 386.59 L564.87 387.54 L565.52 388.48 L566.17 389.41 L566.82 390.34 L567.47 391.27 L568.12 392.19 L568.77 393.11 L569.42 394.02 L570.07 394.93 L570.72 395.84 L571.37 396.74 L572.02 397.63 L572.66 398.52 L573.31 399.41 L573.96 400.29 L574.61 401.16 L575.26 402.03 L575.91 402.89 L576.56 403.75 L577.21 404.6 L577.86 405.45 L578.51 406.29 L579.16 407.12 L579.81 407.95 L580.46 408.77 L581.11 409.59 L581.76 410.39 L582.41 411.19 L583.06 411.99 L583.71 412.77 L584.36 413.55 L585.01 414.32 L585.66 415.08 L586.31 415.83 L586.96 416.57 L587.61 417.3 L588.26 418.03 L588.91 418.75 L589.55 419.45 L590.2 420.15 L590.85 420.85 L591.5 421.53 L592.15 422.21 L592.8 422.88 L593.45 423.55 L594.1 424.21 L594.75 424.86 L595.4 425.51 L596.05 426.15 L596.7 426.79 L597.35 427.43 L598 428.05 L598.65 428.68 L599.3 429.3 L599.95 429.91 L600.6 430.52 L601.25 431.13 L601.9 431.73 L602.55 432.32 L603.2 432.9 L603.85 433.48 L604.5 434.06 L605.15 434.62 L605.8 435.17 L606.45 435.72 L607.09 436.26 L607.74 436.79 L608.39 437.31 L609.04 437.82 L609.69 438.32 L610.34 438.81 L610.99 439.29 L611.64 439.76 L612.29 440.22 L612.94 440.68 L613.59 441.12 L614.24 441.56 L614.89 442 L615.54 442.43 L616.19 442.85 L616.84 443.26 L617.49 443.68 L618.14 444.08 L618.79 444.49 L619.44 444.88 L620.09 445.28 L620.74 445.67 L621.39 446.06 L622.04 446.44 L622.69 446.82 L623.34 447.19 L623.98 447.55 L624.63 447.9 L625.28 448.25 L625.93 448.59 L626.58 448.91 L627.23 449.23 L627.88 449.53 L628.53 449.82 L629.18 450.1 L629.83 450.37 L630.48 450.62 L631.13 450.85 L631.78 451.08 L632.43 451.29 L633.08 451.48 L633.73 451.67 L634.38 451.84 L635.03 452 L635.68 452.14 L636.33 452.28 L636.98 452.41 L637.63 452.53 L638.28 452.64 L638.93 452.74 L639.58 452.83 L640.23 452.92 L640.88 453 L641.52 453.08 L642.17 453.15 L642.82 453.21 L643.47 453.27 L644.12 453.32 L644.77 453.37 L645.42 453.42 L646.07 453.46 L646.72 453.49 L647.37 453.52 L648.02 453.55 L648.67 453.57 L649.32 453.59 L649.97 453.6 L650.62 453.61 L651.27 453.62 L651.92 453.62 L652.57 453.62 L653.22 453.62 L653.87 453.62 L654.52 453.61 L655.17 453.61 L655.82 453.6 L656.47 453.6 L657.12 453.59 L657.77 453.58 L658.42 453.58 L659.06 453.58 L659.71 453.58 L660.36 453.58 L661.01 453.59 L661.66 453.6 L662.31 453.61 L662.96 453.63 L663.61 453.65 L664.26 453.68 L664.91 453.71 L665.56 453.75 L666.21 453.8 L666.86 453.84 L667.51 453.9 L668.16 453.96 L668.81 454.02 L669.46 454.1 L670.11 454.17 L670.76 454.25 L671.41 454.34 L672.06 454.43 L672.71 454.53 L673.36 454.63 L674.01 454.74 L674.66 454.85 L675.31 454.97 L675.95 455.09 L676.6 455.22 L677.25 455.36 L677.9 455.49 L678.55 455.64 L679.2 455.78 L679.85 455.94 L680.5 456.09 L681.15 456.25 L681.8 456.42 L682.45 456.59 L683.1 456.76 L683.75 456.94 L684.4 457.12" fill="none" stroke="#ff0a0a" stroke-opacity="0.9" stroke-width="1.1"/>
</g>
<rect x="425.2" y="282" width="259.2" height="186.8" fill="none" stroke="#3c3c3c" stroke-width="0.9"/>
<path d="M425.2 468.8h-2.6M425.2 457.12h-1.4M425.2 445.45h-2.6M425.2 433.77h-1.4M425.2 422.1h-2.6M425.2 410.43h-1.4M425.2 398.75h-2.6M425.2 387.07h-1.4M425.2 375.4h-2.6M425.2 363.73h-1.4M425.2 352.05h-2.6M425.2 340.38h-1.4M425.2 328.7h-2.6M425.2 317.02h-1.4M425.2 305.35h-2.6M425.2 293.68h-1.4M425.2 282h-2.6M425.2 468.8v2.6M452.2 468.8v1.4M479.2 468.8v2.6M506.2 468.8v1.4M533.2 468.8v2.6M560.2 468.8v1.4M587.2 468.8v2.6M614.2 468.8v1.4M641.2 468.8v2.6M668.2 468.8v1.4" stroke="#3c3c3c" stroke-width="0.7" fill="none"/>
<g font-size="8.4" fill="#111">
<text x="420.8" y="471.6" text-anchor="end">0</text>
<text x="420.8" y="448.25" text-anchor="end">2</text>
<text x="420.8" y="424.9" text-anchor="end">4</text>
<text x="420.8" y="401.55" text-anchor="end">6</text>
<text x="420.8" y="378.2" text-anchor="end">8</text>
<text x="420.8" y="354.85" text-anchor="end">10</text>
<text x="420.8" y="331.5" text-anchor="end">12</text>
<text x="420.8" y="308.15" text-anchor="end">14</text>
<text x="420.8" y="284.8" text-anchor="end">16</text>
<text x="425.2" y="480.6" text-anchor="middle">−10</text>
<text x="479.2" y="480.6" text-anchor="middle">−5</text>
<text x="533.2" y="480.6" text-anchor="middle">0</text>
<text x="587.2" y="480.6" text-anchor="middle">5</text>
<text x="641.2" y="480.6" text-anchor="middle">10</text>
</g>
<text x="554.8" y="495.1" font-size="10.1" text-anchor="middle" fill="#111">Error values of prediction data</text>
<text transform="translate(405.8 375.4) rotate(-90)" font-size="10" text-anchor="middle" fill="#111">Frequency</text>
<text x="540.5" y="532.2" font-size="15.7" text-anchor="middle" fill="#111">(d)</text>
<rect x="602.1" y="285.9" width="20.4" height="10" fill="#4d4dff"/>
<text x="624.8" y="294" font-size="9.1" fill="#111">GEP2 (Test)</text>
<rect x="604.4" y="302.6" width="66.4" height="25.1" fill="#fff"/>
<rect x="604.4" y="302.6" width="66.4" height="12.4" fill="#e4e4e4"/>
<path d="M604.4 302.6H670.8V327.7H604.4ZM604.4 315H670.8M617.4 315V327.7" stroke="#808080" stroke-width="0.75" fill="none"/>
<clipPath id="tcd"><rect x="604.4" y="302.6" width="66.4" height="25.4"/></clipPath>
<g font-size="8.8" fill="#111" clip-path="url(#tcd)">
<text x="637.6" y="311.53" text-anchor="middle">Kernel Smooth</text>
<text x="606" y="323.48">w</text>
<text x="669" y="323.48" text-anchor="end">2.27249</text>
</g>
</g>
<g>
<clipPath id="ce"><rect x="26.35" y="603.1" width="259.2" height="187"/></clipPath>
<g clip-path="url(#ce)">
<rect x="26.35" y="786.98" width="21.6" height="3.12" fill="#4d4dff"/>
<rect x="47.95" y="777.63" width="21.6" height="12.47" fill="#4d4dff"/>
<rect x="69.55" y="743.35" width="21.6" height="46.75" fill="#4d4dff"/>
<rect x="91.15" y="671.67" width="21.6" height="118.43" fill="#4d4dff"/>
<rect x="112.75" y="649.85" width="21.6" height="140.25" fill="#4d4dff"/>
<rect x="134.35" y="618.68" width="21.6" height="171.42" fill="#4d4dff"/>
<rect x="155.95" y="709.07" width="21.6" height="81.03" fill="#4d4dff"/>
<rect x="177.55" y="746.47" width="21.6" height="43.63" fill="#4d4dff"/>
<rect x="199.15" y="783.87" width="21.6" height="6.23" fill="#4d4dff"/>
<path d="M26.35 790.1V786.98M47.95 790.1V786.98M47.95 790.1V777.63M69.55 790.1V777.63M69.55 790.1V743.35M91.15 790.1V743.35M91.15 790.1V671.67M112.75 790.1V671.67M112.75 790.1V649.85M134.35 790.1V649.85M134.35 790.1V618.68M155.95 790.1V618.68M155.95 790.1V709.07M177.55 790.1V709.07M177.55 790.1V746.47M199.15 790.1V746.47M199.15 790.1V783.87M220.75 790.1V783.87" stroke="#2b2bff" stroke-width="0.7" fill="none"/>
<path d="M26.35 788.14 L26.86 787.98 L27.37 787.82 L27.88 787.66 L28.4 787.5 L28.91 787.34 L29.42 787.18 L29.93 787.02 L30.44 786.86 L30.95 786.71 L31.47 786.55 L31.98 786.39 L32.49 786.23 L33 786.07 L33.51 785.92 L34.02 785.76 L34.54 785.6 L35.05 785.44 L35.56 785.29 L36.07 785.13 L36.58 784.97 L37.09 784.82 L37.6 784.66 L38.12 784.51 L38.63 784.35 L39.14 784.2 L39.65 784.04 L40.16 783.89 L40.67 783.73 L41.19 783.58 L41.7 783.42 L42.21 783.27 L42.72 783.11 L43.23 782.95 L43.74 782.79 L44.26 782.63 L44.77 782.47 L45.28 782.31 L45.79 782.14 L46.3 781.98 L46.81 781.81 L47.32 781.64 L47.84 781.47 L48.35 781.3 L48.86 781.13 L49.37 780.95 L49.88 780.77 L50.39 780.59 L50.91 780.4 L51.42 780.2 L51.93 780 L52.44 779.79 L52.95 779.58 L53.46 779.36 L53.98 779.13 L54.49 778.89 L55 778.64 L55.51 778.38 L56.02 778.12 L56.53 777.84 L57.04 777.54 L57.56 777.24 L58.07 776.92 L58.58 776.59 L59.09 776.25 L59.6 775.89 L60.11 775.51 L60.63 775.11 L61.14 774.7 L61.65 774.26 L62.16 773.79 L62.67 773.3 L63.18 772.78 L63.7 772.23 L64.21 771.65 L64.72 771.03 L65.23 770.38 L65.74 769.7 L66.25 768.98 L66.76 768.23 L67.28 767.45 L67.79 766.64 L68.3 765.8 L68.81 764.93 L69.32 764.02 L69.83 763.08 L70.35 762.12 L70.86 761.12 L71.37 760.1 L71.88 759.04 L72.39 757.95 L72.9 756.84 L73.42 755.69 L73.93 754.52 L74.44 753.31 L74.95 752.08 L75.46 750.81 L75.97 749.52 L76.48 748.2 L77 746.86 L77.51 745.48 L78.02 744.09 L78.53 742.67 L79.04 741.22 L79.55 739.75 L80.07 738.26 L80.58 736.75 L81.09 735.23 L81.6 733.68 L82.11 732.13 L82.62 730.58 L83.14 729.02 L83.65 727.47 L84.16 725.92 L84.67 724.39 L85.18 722.88 L85.69 721.39 L86.2 719.92 L86.72 718.48 L87.23 717.06 L87.74 715.66 L88.25 714.28 L88.76 712.9 L89.27 711.54 L89.79 710.18 L90.3 708.83 L90.81 707.48 L91.32 706.12 L91.83 704.76 L92.34 703.41 L92.86 702.06 L93.37 700.73 L93.88 699.42 L94.39 698.14 L94.9 696.89 L95.41 695.68 L95.92 694.52 L96.44 693.41 L96.95 692.36 L97.46 691.36 L97.97 690.41 L98.48 689.5 L98.99 688.64 L99.51 687.8 L100.02 687 L100.53 686.22 L101.04 685.46 L101.55 684.71 L102.06 683.97 L102.58 683.23 L103.09 682.5 L103.6 681.76 L104.11 681.03 L104.62 680.3 L105.13 679.56 L105.64 678.83 L106.16 678.09 L106.67 677.34 L107.18 676.59 L107.69 675.84 L108.2 675.07 L108.71 674.29 L109.23 673.48 L109.74 672.64 L110.25 671.76 L110.76 670.83 L111.27 669.86 L111.78 668.82 L112.3 667.72 L112.81 666.55 L113.32 665.3 L113.83 663.98 L114.34 662.59 L114.85 661.16 L115.36 659.67 L115.88 658.15 L116.39 656.59 L116.9 655.01 L117.41 653.42 L117.92 651.81 L118.43 650.2 L118.95 648.6 L119.46 647 L119.97 645.42 L120.48 643.85 L120.99 642.29 L121.5 640.76 L122.02 639.25 L122.53 637.76 L123.04 636.31 L123.55 634.89 L124.06 633.51 L124.57 632.17 L125.08 630.87 L125.6 629.61 L126.11 628.41 L126.62 627.25 L127.13 626.16 L127.64 625.11 L128.15 624.13 L128.67 623.22 L129.18 622.37 L129.69 621.59 L130.2 620.88 L130.71 620.26 L131.22 619.73 L131.74 619.3 L132.25 618.98 L132.76 618.76 L133.27 618.66 L133.78 618.68 L134.29 618.83 L134.8 619.11 L135.32 619.51 L135.83 620.03 L136.34 620.67 L136.85 621.43 L137.36 622.29 L137.87 623.27 L138.39 624.35 L138.9 625.53 L139.41 626.81 L139.92 628.19 L140.43 629.66 L140.94 631.21 L141.46 632.84 L141.97 634.54 L142.48 636.29 L142.99 638.1 L143.5 639.95 L144.01 641.83 L144.52 643.75 L145.04 645.68 L145.55 647.62 L146.06 649.58 L146.57 651.54 L147.08 653.51 L147.59 655.49 L148.11 657.47 L148.62 659.45 L149.13 661.45 L149.64 663.44 L150.15 665.44 L150.66 667.44 L151.18 669.43 L151.69 671.42 L152.2 673.4 L152.71 675.35 L153.22 677.28 L153.73 679.17 L154.24 681.02 L154.76 682.82 L155.27 684.56 L155.78 686.24 L156.29 687.85 L156.8 689.39 L157.31 690.86 L157.83 692.26 L158.34 693.6 L158.85 694.88 L159.36 696.1 L159.87 697.27 L160.38 698.38 L160.9 699.44 L161.41 700.45 L161.92 701.42 L162.43 702.34 L162.94 703.23 L163.45 704.09 L163.96 704.92 L164.48 705.73 L164.99 706.53 L165.5 707.31 L166.01 708.08 L166.52 708.85 L167.03 709.62 L167.55 710.4 L168.06 711.17 L168.57 711.96 L169.08 712.74 L169.59 713.53 L170.1 714.32 L170.62 715.11 L171.13 715.9 L171.64 716.69 L172.15 717.48 L172.66 718.27 L173.17 719.07 L173.68 719.87 L174.2 720.69 L174.71 721.51 L175.22 722.36 L175.73 723.22 L176.24 724.11 L176.75 725.03 L177.27 725.98 L177.78 726.96 L178.29 727.98 L178.8 729.02 L179.31 730.09 L179.82 731.17 L180.34 732.26 L180.85 733.35 L181.36 734.44 L181.87 735.52 L182.38 736.58 L182.89 737.63 L183.4 738.64 L183.92 739.63 L184.43 740.61 L184.94 741.57 L185.45 742.52 L185.96 743.47 L186.47 744.42 L186.99 745.38 L187.5 746.36 L188.01 747.35 L188.52 748.37 L189.03 749.41 L189.54 750.47 L190.06 751.55 L190.57 752.63 L191.08 753.72 L191.59 754.81 L192.1 755.89 L192.61 756.95 L193.12 758 L193.64 759.02 L194.15 760.01 L194.66 760.98 L195.17 761.91 L195.68 762.82 L196.19 763.71 L196.71 764.58 L197.22 765.42 L197.73 766.26 L198.24 767.07 L198.75 767.88 L199.26 768.68 L199.78 769.47 L200.29 770.25 L200.8 771.01 L201.31 771.76 L201.82 772.5 L202.33 773.22 L202.84 773.92 L203.36 774.59 L203.87 775.25 L204.38 775.87 L204.89 776.47 L205.4 777.04 L205.91 777.59 L206.43 778.11 L206.94 778.61 L207.45 779.09 L207.96 779.54 L208.47 779.99 L208.98 780.41 L209.5 780.83 L210.01 781.23 L210.52 781.62 L211.03 782 L211.54 782.38 L212.05 782.74 L212.56 783.09 L213.08 783.44 L213.59 783.77 L214.1 784.1 L214.61 784.42 L215.12 784.73 L215.63 785.03 L216.15 785.33 L216.66 785.61 L217.17 785.89 L217.68 786.15 L218.19 786.41 L218.7 786.66 L219.22 786.89 L219.73 787.11 L220.24 787.32 L220.75 787.51 L221.26 787.69 L221.77 787.86 L222.28 788.02 L222.8 788.17 L223.31 788.3 L223.82 788.43 L224.33 788.55 L224.84 788.67 L225.35 788.78 L225.87 788.89 L226.38 788.99 L226.89 789.1 L227.4 789.2 L227.91 789.3 L228.42 789.4 L228.94 789.5 L229.45 789.59 L229.96 789.69 L230.47 789.79" fill="none" stroke="#ff0a0a" stroke-opacity="0.9" stroke-width="1.1"/>
</g>
<rect x="26.35" y="603.1" width="259.2" height="187" fill="none" stroke="#3c3c3c" stroke-width="0.9"/>
<path d="M26.35 790.1h-2.6M26.35 782.31h-1.4M26.35 774.52h-2.6M26.35 766.73h-1.4M26.35 758.93h-2.6M26.35 751.14h-1.4M26.35 743.35h-2.6M26.35 735.56h-1.4M26.35 727.77h-2.6M26.35 719.98h-1.4M26.35 712.18h-2.6M26.35 704.39h-1.4M26.35 696.6h-2.6M26.35 688.81h-1.4M26.35 681.02h-2.6M26.35 673.23h-1.4M26.35 665.43h-2.6M26.35 657.64h-1.4M26.35 649.85h-2.6M26.35 642.06h-1.4M26.35 634.27h-2.6M26.35 626.48h-1.4M26.35 618.68h-2.6M26.35 610.89h-1.4M26.35 603.1h-2.6M26.35 790.1v2.6M53.35 790.1v1.4M80.35 790.1v2.6M107.35 790.1v1.4M134.35 790.1v2.6M161.35 790.1v1.4M188.35 790.1v2.6M215.35 790.1v1.4M242.35 790.1v2.6M269.35 790.1v1.4" stroke="#3c3c3c" stroke-width="0.7" fill="none"/>
<g font-size="8.4" fill="#111">
<text x="21.95" y="792.9" text-anchor="end">0</text>
<text x="21.95" y="777.32" text-anchor="end">5</text>
<text x="21.95" y="761.73" text-anchor="end">10</text>
<text x="21.95" y="746.15" text-anchor="end">15</text>
<text x="21.95" y="730.57" text-anchor="end">20</text>
<text x="21.95" y="714.98" text-anchor="end">25</text>
<text x="21.95" y="699.4" text-anchor="end">30</text>
<text x="21.95" y="683.82" text-anchor="end">35</text>
<text x="21.95" y="668.23" text-anchor="end">40</text>
<text x="21.95" y="652.65" text-anchor="end">45</text>
<text x="21.95" y="637.07" text-anchor="end">50</text>
<text x="21.95" y="621.48" text-anchor="end">55</text>
<text x="21.95" y="605.9" text-anchor="end">60</text>
<text x="26.35" y="801.9" text-anchor="middle">−10</text>
<text x="80.35" y="801.9" text-anchor="middle">−5</text>
<text x="134.35" y="801.9" text-anchor="middle">0</text>
<text x="188.35" y="801.9" text-anchor="middle">5</text>
<text x="242.35" y="801.9" text-anchor="middle">10</text>
</g>
<text x="155.95" y="816.4" font-size="10.1" text-anchor="middle" fill="#111">Error values of prediction data</text>
<text transform="translate(8.15 696.6) rotate(-90)" font-size="10" text-anchor="middle" fill="#111">Frequency</text>
<text x="141.7" y="853.5" font-size="15.7" text-anchor="middle" fill="#111">(e)</text>
<rect x="197.4" y="607" width="21.1" height="10" fill="#4d4dff"/>
<text x="221" y="615.1" font-size="9.1" fill="#111">GEP3 (Train)</text>
<rect x="203.4" y="623.4" width="70.6" height="27.4" fill="#fff"/>
<rect x="203.4" y="623.4" width="70.6" height="13.6" fill="#e4e4e4"/>
<path d="M203.4 623.4H274V650.8H203.4ZM203.4 637H274M217.5 637V650.8" stroke="#808080" stroke-width="0.75" fill="none"/>
<clipPath id="tce"><rect x="203.4" y="623.4" width="70.6" height="27.7"/></clipPath>
<g font-size="9.5" fill="#111" clip-path="url(#tce)">
<text x="238.7" y="634.15" text-anchor="middle">Kernel Smooth</text>
<text x="205" y="646.35">w</text>
<text x="272.2" y="646.35" text-anchor="end">1.07531</text>
</g>
</g>
<g>
<clipPath id="cf"><rect x="425.2" y="603.1" width="259.2" height="187"/></clipPath>
<g clip-path="url(#cf)">
<rect x="446.8" y="778.41" width="21.6" height="11.69" fill="#4d4dff"/>
<rect x="468.4" y="743.35" width="21.6" height="46.75" fill="#4d4dff"/>
<rect x="490" y="719.98" width="21.6" height="70.12" fill="#4d4dff"/>
<rect x="511.6" y="649.85" width="21.6" height="140.25" fill="#4d4dff"/>
<rect x="533.2" y="638.16" width="21.6" height="151.94" fill="#4d4dff"/>
<rect x="554.8" y="673.23" width="21.6" height="116.88" fill="#4d4dff"/>
<rect x="576.4" y="719.98" width="21.6" height="70.12" fill="#4d4dff"/>
<path d="M446.8 790.1V778.41M468.4 790.1V778.41M468.4 790.1V743.35M490 790.1V743.35M490 790.1V719.98M511.6 790.1V719.98M511.6 790.1V649.85M533.2 790.1V649.85M533.2 790.1V638.16M554.8 790.1V638.16M554.8 790.1V673.23M576.4 790.1V673.23M576.4 790.1V719.98M598 790.1V719.98" stroke="#2b2bff" stroke-width="0.7" fill="none"/>
<path d="M425.2 789.17 L425.72 789.08 L426.24 788.99 L426.77 788.9 L427.29 788.81 L427.81 788.72 L428.33 788.63 L428.86 788.53 L429.38 788.44 L429.9 788.34 L430.42 788.24 L430.95 788.14 L431.47 788.03 L431.99 787.92 L432.51 787.81 L433.04 787.69 L433.56 787.57 L434.08 787.44 L434.6 787.32 L435.13 787.18 L435.65 787.04 L436.17 786.9 L436.69 786.75 L437.22 786.59 L437.74 786.43 L438.26 786.26 L438.78 786.09 L439.3 785.91 L439.83 785.72 L440.35 785.53 L440.87 785.33 L441.39 785.13 L441.92 784.91 L442.44 784.7 L442.96 784.47 L443.48 784.24 L444.01 784.01 L444.53 783.76 L445.05 783.51 L445.57 783.25 L446.1 782.99 L446.62 782.72 L447.14 782.44 L447.66 782.15 L448.19 781.86 L448.71 781.56 L449.23 781.25 L449.75 780.93 L450.28 780.6 L450.8 780.27 L451.32 779.92 L451.84 779.57 L452.37 779.21 L452.89 778.84 L453.41 778.46 L453.93 778.07 L454.45 777.66 L454.98 777.25 L455.5 776.83 L456.02 776.4 L456.54 775.95 L457.07 775.5 L457.59 775.03 L458.11 774.55 L458.63 774.07 L459.16 773.56 L459.68 773.05 L460.2 772.53 L460.72 771.99 L461.25 771.45 L461.77 770.89 L462.29 770.32 L462.81 769.74 L463.34 769.15 L463.86 768.55 L464.38 767.94 L464.9 767.31 L465.43 766.68 L465.95 766.03 L466.47 765.38 L466.99 764.71 L467.51 764.04 L468.04 763.35 L468.56 762.65 L469.08 761.95 L469.6 761.23 L470.13 760.5 L470.65 759.77 L471.17 759.03 L471.69 758.28 L472.22 757.52 L472.74 756.75 L473.26 755.98 L473.78 755.2 L474.31 754.41 L474.83 753.62 L475.35 752.83 L475.87 752.03 L476.4 751.22 L476.92 750.42 L477.44 749.61 L477.96 748.79 L478.49 747.98 L479.01 747.16 L479.53 746.34 L480.05 745.52 L480.58 744.69 L481.1 743.86 L481.62 743.03 L482.14 742.2 L482.66 741.36 L483.19 740.51 L483.71 739.66 L484.23 738.8 L484.75 737.93 L485.28 737.05 L485.8 736.16 L486.32 735.27 L486.84 734.36 L487.37 733.44 L487.89 732.51 L488.41 731.57 L488.93 730.62 L489.46 729.65 L489.98 728.66 L490.5 727.67 L491.02 726.65 L491.55 725.62 L492.07 724.57 L492.59 723.51 L493.11 722.42 L493.64 721.32 L494.16 720.2 L494.68 719.06 L495.2 717.9 L495.72 716.72 L496.25 715.52 L496.77 714.3 L497.29 713.05 L497.81 711.79 L498.34 710.5 L498.86 709.18 L499.38 707.84 L499.9 706.48 L500.43 705.09 L500.95 703.67 L501.47 702.23 L501.99 700.77 L502.52 699.28 L503.04 697.77 L503.56 696.24 L504.08 694.69 L504.61 693.12 L505.13 691.53 L505.65 689.93 L506.17 688.32 L506.7 686.69 L507.22 685.05 L507.74 683.4 L508.26 681.74 L508.78 680.07 L509.31 678.4 L509.83 676.72 L510.35 675.03 L510.87 673.35 L511.4 671.66 L511.92 669.97 L512.44 668.29 L512.96 666.62 L513.49 664.96 L514.01 663.32 L514.53 661.71 L515.05 660.13 L515.58 658.6 L516.1 657.1 L516.62 655.66 L517.14 654.27 L517.67 652.94 L518.19 651.66 L518.71 650.45 L519.23 649.29 L519.76 648.19 L520.28 647.14 L520.8 646.15 L521.32 645.2 L521.85 644.31 L522.37 643.47 L522.89 642.68 L523.41 641.94 L523.93 641.26 L524.46 640.64 L524.98 640.08 L525.5 639.58 L526.02 639.15 L526.55 638.79 L527.07 638.51 L527.59 638.31 L528.11 638.19 L528.64 638.15 L529.16 638.2 L529.68 638.34 L530.2 638.55 L530.73 638.84 L531.25 639.19 L531.77 639.6 L532.29 640.06 L532.82 640.57 L533.34 641.11 L533.86 641.69 L534.38 642.3 L534.91 642.94 L535.43 643.61 L535.95 644.3 L536.47 645.03 L536.99 645.78 L537.52 646.55 L538.04 647.34 L538.56 648.16 L539.08 649 L539.61 649.86 L540.13 650.73 L540.65 651.63 L541.17 652.54 L541.7 653.46 L542.22 654.4 L542.74 655.35 L543.26 656.31 L543.79 657.28 L544.31 658.26 L544.83 659.25 L545.35 660.24 L545.88 661.24 L546.4 662.25 L546.92 663.25 L547.44 664.26 L547.97 665.27 L548.49 666.28 L549.01 667.28 L549.53 668.28 L550.06 669.28 L550.58 670.27 L551.1 671.25 L551.62 672.23 L552.14 673.19 L552.67 674.15 L553.19 675.09 L553.71 676.02 L554.23 676.93 L554.76 677.83 L555.28 678.71 L555.8 679.57 L556.32 680.42 L556.85 681.25 L557.37 682.07 L557.89 682.88 L558.41 683.67 L558.94 684.46 L559.46 685.23 L559.98 686 L560.5 686.76 L561.03 687.51 L561.55 688.25 L562.07 688.99 L562.59 689.72 L563.12 690.45 L563.64 691.18 L564.16 691.91 L564.68 692.64 L565.2 693.36 L565.73 694.09 L566.25 694.82 L566.77 695.55 L567.29 696.29 L567.82 697.03 L568.34 697.78 L568.86 698.53 L569.38 699.29 L569.91 700.06 L570.43 700.84 L570.95 701.62 L571.47 702.42 L572 703.23 L572.52 704.05 L573.04 704.89 L573.56 705.74 L574.09 706.6 L574.61 707.48 L575.13 708.37 L575.65 709.29 L576.18 710.22 L576.7 711.17 L577.22 712.14 L577.74 713.12 L578.26 714.13 L578.79 715.14 L579.31 716.18 L579.83 717.22 L580.35 718.28 L580.88 719.35 L581.4 720.43 L581.92 721.51 L582.44 722.61 L582.97 723.71 L583.49 724.81 L584.01 725.92 L584.53 727.03 L585.06 728.15 L585.58 729.26 L586.1 730.38 L586.62 731.49 L587.15 732.6 L587.67 733.71 L588.19 734.81 L588.71 735.91 L589.24 737 L589.76 738.09 L590.28 739.17 L590.8 740.25 L591.33 741.33 L591.85 742.4 L592.37 743.46 L592.89 744.52 L593.41 745.57 L593.94 746.62 L594.46 747.67 L594.98 748.7 L595.5 749.73 L596.03 750.76 L596.55 751.78 L597.07 752.79 L597.59 753.79 L598.12 754.79 L598.64 755.78 L599.16 756.77 L599.68 757.75 L600.21 758.72 L600.73 759.68 L601.25 760.63 L601.77 761.57 L602.3 762.5 L602.82 763.43 L603.34 764.34 L603.86 765.24 L604.39 766.13 L604.91 767.01 L605.43 767.88 L605.95 768.73 L606.47 769.57 L607 770.4 L607.52 771.22 L608.04 772.02 L608.56 772.8 L609.09 773.58 L609.61 774.33 L610.13 775.07 L610.65 775.79 L611.18 776.5 L611.7 777.18 L612.22 777.85 L612.74 778.49 L613.27 779.11 L613.79 779.71 L614.31 780.29 L614.83 780.84 L615.36 781.36 L615.88 781.87 L616.4 782.35 L616.92 782.81 L617.45 783.25 L617.97 783.66 L618.49 784.06 L619.01 784.44 L619.54 784.8 L620.06 785.14 L620.58 785.46 L621.1 785.77 L621.62 786.05 L622.15 786.33 L622.67 786.58 L623.19 786.82 L623.71 787.04 L624.24 787.25 L624.76 787.44 L625.28 787.62 L625.8 787.79 L626.33 787.94 L626.85 788.08 L627.37 788.22 L627.89 788.35 L628.42 788.47 L628.94 788.59 L629.46 788.71 L629.98 788.83 L630.51 788.96 L631.03 789.08 L631.55 789.21 L632.07 789.34 L632.6 789.48 L633.12 789.61 L633.64 789.75" fill="none" stroke="#ff0a0a" stroke-opacity="0.9" stroke-width="1.1"/>
</g>
<rect x="425.2" y="603.1" width="259.2" height="187" fill="none" stroke="#3c3c3c" stroke-width="0.9"/>
<path d="M425.2 790.1h-2.6M425.2 778.41h-1.4M425.2 766.73h-2.6M425.2 755.04h-1.4M425.2 743.35h-2.6M425.2 731.66h-1.4M425.2 719.98h-2.6M425.2 708.29h-1.4M425.2 696.6h-2.6M425.2 684.91h-1.4M425.2 673.23h-2.6M425.2 661.54h-1.4M425.2 649.85h-2.6M425.2 638.16h-1.4M425.2 626.48h-2.6M425.2 614.79h-1.4M425.2 603.1h-2.6M425.2 790.1v2.6M452.2 790.1v1.4M479.2 790.1v2.6M506.2 790.1v1.4M533.2 790.1v2.6M560.2 790.1v1.4M587.2 790.1v2.6M614.2 790.1v1.4M641.2 790.1v2.6M668.2 790.1v1.4" stroke="#3c3c3c" stroke-width="0.7" fill="none"/>
<g font-size="8.4" fill="#111">
<text x="420.8" y="792.9" text-anchor="end">0</text>
<text x="420.8" y="769.52" text-anchor="end">2</text>
<text x="420.8" y="746.15" text-anchor="end">4</text>
<text x="420.8" y="722.77" text-anchor="end">6</text>
<text x="420.8" y="699.4" text-anchor="end">8</text>
<text x="420.8" y="676.02" text-anchor="end">10</text>
<text x="420.8" y="652.65" text-anchor="end">12</text>
<text x="420.8" y="629.27" text-anchor="end">14</text>
<text x="420.8" y="605.9" text-anchor="end">16</text>
<text x="425.2" y="801.9" text-anchor="middle">−10</text>
<text x="479.2" y="801.9" text-anchor="middle">−5</text>
<text x="533.2" y="801.9" text-anchor="middle">0</text>
<text x="587.2" y="801.9" text-anchor="middle">5</text>
<text x="641.2" y="801.9" text-anchor="middle">10</text>
</g>
<text x="554.8" y="816.4" font-size="10.1" text-anchor="middle" fill="#111">Error values of prediction data</text>
<text transform="translate(405.8 696.6) rotate(-90)" font-size="10" text-anchor="middle" fill="#111">Frequency</text>
<text x="540.5" y="853.5" font-size="15.7" text-anchor="middle" fill="#111">(f)</text>
<rect x="602.1" y="607" width="20.4" height="10" fill="#4d4dff"/>
<text x="624.8" y="615.1" font-size="9.1" fill="#111">GEP3 (Test)</text>
<rect x="608.7" y="623.4" width="64.1" height="24.1" fill="#fff"/>
<rect x="608.7" y="623.4" width="64.1" height="12.2" fill="#e4e4e4"/>
<path d="M608.7 623.4H672.8V647.5H608.7ZM608.7 635.6H672.8M621.3 635.6V647.5" stroke="#808080" stroke-width="0.75" fill="none"/>
<clipPath id="tcf"><rect x="608.7" y="623.4" width="64.1" height="24.4"/></clipPath>
<g font-size="8.5" fill="#111" clip-path="url(#tcf)">
<text x="640.75" y="632.53" text-anchor="middle">Kernel Smooth</text>
<text x="610.3" y="643.68">w</text>
<text x="671" y="643.68" text-anchor="end">1.42326</text>
</g>
</g>
<g>
<clipPath id="cg"><rect x="26.35" y="881.9" width="259.2" height="186.5"/></clipPath>
<g clip-path="url(#cg)">
<rect x="69.55" y="1064.26" width="21.6" height="4.14" fill="#4d4dff"/>
<rect x="91.15" y="997.94" width="21.6" height="70.46" fill="#4d4dff"/>
<rect x="112.75" y="954.43" width="21.6" height="113.97" fill="#4d4dff"/>
<rect x="134.35" y="890.19" width="21.6" height="178.21" fill="#4d4dff"/>
<rect x="155.95" y="1020.74" width="21.6" height="47.66" fill="#4d4dff"/>
<path d="M69.55 1068.4V1064.26M91.15 1068.4V1064.26M91.15 1068.4V997.94M112.75 1068.4V997.94M112.75 1068.4V954.43M134.35 1068.4V954.43M134.35 1068.4V890.19M155.95 1068.4V890.19M155.95 1068.4V1020.74M177.55 1068.4V1020.74" stroke="#2b2bff" stroke-width="0.7" fill="none"/>
<path d="M74.41 1067.68 L74.8 1067.62 L75.19 1067.56 L75.59 1067.5 L75.98 1067.43 L76.37 1067.36 L76.76 1067.28 L77.15 1067.2 L77.55 1067.12 L77.94 1067.02 L78.33 1066.92 L78.72 1066.82 L79.11 1066.71 L79.5 1066.59 L79.9 1066.46 L80.29 1066.33 L80.68 1066.19 L81.07 1066.04 L81.46 1065.88 L81.86 1065.71 L82.25 1065.53 L82.64 1065.34 L83.03 1065.14 L83.42 1064.93 L83.82 1064.71 L84.21 1064.47 L84.6 1064.23 L84.99 1063.97 L85.38 1063.69 L85.78 1063.4 L86.17 1063.09 L86.56 1062.77 L86.95 1062.44 L87.34 1062.08 L87.73 1061.71 L88.13 1061.32 L88.52 1060.91 L88.91 1060.48 L89.3 1060.03 L89.69 1059.56 L90.09 1059.06 L90.48 1058.55 L90.87 1058.01 L91.26 1057.44 L91.65 1056.85 L92.05 1056.24 L92.44 1055.6 L92.83 1054.93 L93.22 1054.24 L93.61 1053.51 L94.01 1052.76 L94.4 1051.97 L94.79 1051.16 L95.18 1050.32 L95.57 1049.44 L95.96 1048.53 L96.36 1047.58 L96.75 1046.61 L97.14 1045.6 L97.53 1044.55 L97.92 1043.46 L98.32 1042.35 L98.71 1041.19 L99.1 1040 L99.49 1038.77 L99.88 1037.5 L100.28 1036.19 L100.67 1034.84 L101.06 1033.46 L101.45 1032.04 L101.84 1030.57 L102.24 1029.07 L102.63 1027.53 L103.02 1025.95 L103.41 1024.33 L103.8 1022.67 L104.19 1020.97 L104.59 1019.23 L104.98 1017.46 L105.37 1015.64 L105.76 1013.79 L106.15 1011.9 L106.55 1009.98 L106.94 1008.02 L107.33 1006.02 L107.72 1003.99 L108.11 1001.93 L108.51 999.84 L108.9 997.71 L109.29 995.56 L109.68 993.38 L110.07 991.16 L110.47 988.93 L110.86 986.67 L111.25 984.39 L111.64 982.08 L112.03 979.76 L112.42 977.42 L112.82 975.06 L113.21 972.69 L113.6 970.31 L113.99 967.92 L114.38 965.52 L114.78 963.12 L115.17 960.71 L115.56 958.31 L115.95 955.9 L116.34 953.5 L116.74 951.11 L117.13 948.73 L117.52 946.36 L117.91 944 L118.3 941.66 L118.7 939.34 L119.09 937.05 L119.48 934.77 L119.87 932.53 L120.26 930.32 L120.65 928.14 L121.05 926 L121.44 923.89 L121.83 921.83 L122.22 919.82 L122.61 917.84 L123.01 915.92 L123.4 914.05 L123.79 912.24 L124.18 910.48 L124.57 908.78 L124.97 907.15 L125.36 905.57 L125.75 904.07 L126.14 902.63 L126.53 901.26 L126.93 899.96 L127.32 898.74 L127.71 897.59 L128.1 896.52 L128.49 895.54 L128.88 894.63 L129.28 893.8 L129.67 893.05 L130.06 892.39 L130.45 891.82 L130.84 891.33 L131.24 890.92 L131.63 890.61 L132.02 890.38 L132.41 890.24 L132.8 890.19 L133.2 890.23 L133.59 890.35 L133.98 890.56 L134.37 890.86 L134.76 891.25 L135.16 891.73 L135.55 892.29 L135.94 892.93 L136.33 893.66 L136.72 894.48 L137.12 895.37 L137.51 896.35 L137.9 897.4 L138.29 898.54 L138.68 899.75 L139.07 901.03 L139.47 902.38 L139.86 903.81 L140.25 905.31 L140.64 906.87 L141.03 908.49 L141.43 910.18 L141.82 911.93 L142.21 913.74 L142.6 915.6 L142.99 917.51 L143.39 919.47 L143.78 921.48 L144.17 923.53 L144.56 925.63 L144.95 927.77 L145.35 929.94 L145.74 932.15 L146.13 934.38 L146.52 936.65 L146.91 938.94 L147.3 941.26 L147.7 943.59 L148.09 945.95 L148.48 948.32 L148.87 950.7 L149.26 953.09 L149.66 955.49 L150.05 957.89 L150.44 960.3 L150.83 962.7 L151.22 965.11 L151.62 967.5 L152.01 969.9 L152.4 972.28 L152.79 974.65 L153.18 977.01 L153.58 979.35 L153.97 981.68 L154.36 983.99 L154.75 986.27 L155.14 988.54 L155.53 990.78 L155.93 992.99 L156.32 995.18 L156.71 997.34 L157.1 999.47 L157.49 1001.57 L157.89 1003.64 L158.28 1005.67 L158.67 1007.67 L159.06 1009.64 L159.45 1011.57 L159.85 1013.47 L160.24 1015.32 L160.63 1017.14 L161.02 1018.93 L161.41 1020.67 L161.81 1022.38 L162.2 1024.04 L162.59 1025.67 L162.98 1027.26 L163.37 1028.81 L163.76 1030.32 L164.16 1031.79 L164.55 1033.22 L164.94 1034.61 L165.33 1035.96 L165.72 1037.27 L166.12 1038.55 L166.51 1039.79 L166.9 1040.99 L167.29 1042.15 L167.68 1043.27 L168.08 1044.36 L168.47 1045.42 L168.86 1046.43 L169.25 1047.42 L169.64 1048.37 L170.04 1049.28 L170.43 1050.17 L170.82 1051.02 L171.21 1051.84 L171.6 1052.62 L171.99 1053.38 L172.39 1054.11 L172.78 1054.81 L173.17 1055.48 L173.56 1056.13 L173.95 1056.75 L174.35 1057.34 L174.74 1057.91 L175.13 1058.45 L175.52 1058.97 L175.91 1059.47 L176.31 1059.95 L176.7 1060.4 L177.09 1060.83 L177.48 1061.25 L177.87 1061.64 L178.27 1062.02 L178.66 1062.38 L179.05 1062.72 L179.44 1063.04 L179.83 1063.35 L180.22 1063.64 L180.62 1063.92 L181.01 1064.18 L181.4 1064.43 L181.79 1064.67 L182.18 1064.89 L182.58 1065.11 L182.97 1065.31 L183.36 1065.5 L183.75 1065.68 L184.14 1065.85 L184.54 1066.01 L184.93 1066.16 L185.32 1066.31 L185.71 1066.44 L186.1 1066.57 L186.5 1066.69 L186.89 1066.8 L187.28 1066.91 L187.67 1067.01 L188.06 1067.1 L188.45 1067.19 L188.85 1067.27 L189.24 1067.35 L189.63 1067.42 L190.02 1067.49 L190.41 1067.55 L190.81 1067.61 L191.2 1067.67 L191.59 1067.72" fill="none" stroke="#ff0a0a" stroke-opacity="0.9" stroke-width="1.1"/>
</g>
<rect x="26.35" y="881.9" width="259.2" height="186.5" fill="none" stroke="#3c3c3c" stroke-width="0.9"/>
<path d="M26.35 1068.4h-2.6M26.35 1058.04h-1.4M26.35 1047.68h-2.6M26.35 1037.32h-1.4M26.35 1026.96h-2.6M26.35 1016.59h-1.4M26.35 1006.23h-2.6M26.35 995.87h-1.4M26.35 985.51h-2.6M26.35 975.15h-1.4M26.35 964.79h-2.6M26.35 954.43h-1.4M26.35 944.07h-2.6M26.35 933.71h-1.4M26.35 923.34h-2.6M26.35 912.98h-1.4M26.35 902.62h-2.6M26.35 892.26h-1.4M26.35 881.9h-2.6M26.35 1068.4v2.6M53.35 1068.4v1.4M80.35 1068.4v2.6M107.35 1068.4v1.4M134.35 1068.4v2.6M161.35 1068.4v1.4M188.35 1068.4v2.6M215.35 1068.4v1.4M242.35 1068.4v2.6M269.35 1068.4v1.4" stroke="#3c3c3c" stroke-width="0.7" fill="none"/>
<g font-size="8.4" fill="#111">
<text x="21.95" y="1071.2" text-anchor="end">0</text>
<text x="21.95" y="1050.48" text-anchor="end">10</text>
<text x="21.95" y="1029.76" text-anchor="end">20</text>
<text x="21.95" y="1009.03" text-anchor="end">30</text>
<text x="21.95" y="988.31" text-anchor="end">40</text>
<text x="21.95" y="967.59" text-anchor="end">50</text>
<text x="21.95" y="946.87" text-anchor="end">60</text>
<text x="21.95" y="926.14" text-anchor="end">70</text>
<text x="21.95" y="905.42" text-anchor="end">80</text>
<text x="21.95" y="884.7" text-anchor="end">90</text>
<text x="26.35" y="1080.2" text-anchor="middle">−10</text>
<text x="80.35" y="1080.2" text-anchor="middle">−5</text>
<text x="134.35" y="1080.2" text-anchor="middle">0</text>
<text x="188.35" y="1080.2" text-anchor="middle">5</text>
<text x="242.35" y="1080.2" text-anchor="middle">10</text>
</g>
<text x="155.95" y="1094.7" font-size="10.1" text-anchor="middle" fill="#111">Error values of prediction data</text>
<text transform="translate(8.15 975.15) rotate(-90)" font-size="10" text-anchor="middle" fill="#111">Frequency</text>
<text x="141.7" y="1131.8" font-size="15.7" text-anchor="middle" fill="#111">(g)</text>
<rect x="197.4" y="885.8" width="21.1" height="10" fill="#4d4dff"/>
<text x="221" y="893.9" font-size="9.1" fill="#111">GEP4 (Train)</text>
<rect x="203.2" y="902.2" width="67.3" height="33.6" fill="#fff"/>
<rect x="203.2" y="902.2" width="67.3" height="12.3" fill="#e4e4e4"/>
<path d="M203.2 902.2H270.5V935.8H203.2ZM203.2 914.5H270.5M203.2 927H270.5M216.7 914.5V935.8" stroke="#808080" stroke-width="0.75" fill="none"/>
<clipPath id="tcg"><rect x="203.2" y="902.2" width="67.3" height="33.9"/></clipPath>
<g font-size="8.6" fill="#111" clip-path="url(#tcg)">
<text x="236.85" y="911.52" text-anchor="middle">Normal</text>
<text x="204.8" y="923.42">m</text>
<text x="268.7" y="923.42" text-anchor="end">-0.14346</text>
<text x="204.8" y="934.92">sig</text>
<text x="268.7" y="934.92" text-anchor="end">1.65284</text>
</g>
</g>
<g>
<clipPath id="ch"><rect x="425.2" y="881.9" width="259.2" height="186.5"/></clipPath>
<g clip-path="url(#ch)">
<rect x="468.4" y="1012.45" width="21.6" height="55.95" fill="#4d4dff"/>
<rect x="490" y="1003.12" width="21.6" height="65.28" fill="#4d4dff"/>
<rect x="511.6" y="900.55" width="21.6" height="167.85" fill="#4d4dff"/>
<rect x="533.2" y="900.55" width="21.6" height="167.85" fill="#4d4dff"/>
<rect x="554.8" y="1049.75" width="21.6" height="18.65" fill="#4d4dff"/>
<rect x="576.4" y="1059.08" width="21.6" height="9.33" fill="#4d4dff"/>
<path d="M468.4 1068.4V1012.45M490 1068.4V1012.45M490 1068.4V1003.12M511.6 1068.4V1003.12M511.6 1068.4V900.55M533.2 1068.4V900.55M533.2 1068.4V900.55M554.8 1068.4V900.55M554.8 1068.4V1049.75M576.4 1068.4V1049.75M576.4 1068.4V1059.08M598 1068.4V1059.08" stroke="#2b2bff" stroke-width="0.7" fill="none"/>
<path d="M446.8 1067.61 L447.31 1067.55 L447.83 1067.49 L448.34 1067.42 L448.85 1067.35 L449.36 1067.27 L449.88 1067.19 L450.39 1067.11 L450.9 1067.02 L451.42 1066.92 L451.93 1066.82 L452.44 1066.71 L452.95 1066.6 L453.47 1066.47 L453.98 1066.34 L454.49 1066.21 L455.01 1066.06 L455.52 1065.91 L456.03 1065.74 L456.55 1065.57 L457.06 1065.39 L457.57 1065.2 L458.08 1065 L458.6 1064.78 L459.11 1064.56 L459.62 1064.32 L460.14 1064.07 L460.65 1063.81 L461.16 1063.53 L461.67 1063.24 L462.19 1062.94 L462.7 1062.62 L463.21 1062.28 L463.73 1061.93 L464.24 1061.56 L464.75 1061.17 L465.26 1060.76 L465.78 1060.34 L466.29 1059.9 L466.8 1059.43 L467.32 1058.95 L467.83 1058.44 L468.34 1057.91 L468.86 1057.36 L469.37 1056.78 L469.88 1056.19 L470.39 1055.56 L470.91 1054.91 L471.42 1054.24 L471.93 1053.53 L472.45 1052.8 L472.96 1052.05 L473.47 1051.26 L473.98 1050.45 L474.5 1049.6 L475.01 1048.73 L475.52 1047.82 L476.04 1046.88 L476.55 1045.91 L477.06 1044.91 L477.57 1043.87 L478.09 1042.81 L478.6 1041.7 L479.11 1040.57 L479.63 1039.4 L480.14 1038.19 L480.65 1036.95 L481.16 1035.67 L481.68 1034.36 L482.19 1033.01 L482.7 1031.63 L483.22 1030.21 L483.73 1028.76 L484.24 1027.27 L484.76 1025.74 L485.27 1024.18 L485.78 1022.58 L486.29 1020.95 L486.81 1019.28 L487.32 1017.58 L487.83 1015.85 L488.35 1014.08 L488.86 1012.28 L489.37 1010.45 L489.88 1008.58 L490.4 1006.69 L490.91 1004.77 L491.42 1002.81 L491.94 1000.83 L492.45 998.83 L492.96 996.8 L493.47 994.74 L493.99 992.66 L494.5 990.56 L495.01 988.44 L495.53 986.31 L496.04 984.15 L496.55 981.98 L497.07 979.8 L497.58 977.6 L498.09 975.39 L498.6 973.18 L499.12 970.96 L499.63 968.74 L500.14 966.51 L500.66 964.29 L501.17 962.06 L501.68 959.84 L502.19 957.63 L502.71 955.43 L503.22 953.24 L503.73 951.06 L504.25 948.89 L504.76 946.75 L505.27 944.63 L505.78 942.53 L506.3 940.45 L506.81 938.4 L507.32 936.39 L507.84 934.4 L508.35 932.45 L508.86 930.54 L509.37 928.67 L509.89 926.84 L510.4 925.06 L510.91 923.32 L511.43 921.63 L511.94 920 L512.45 918.41 L512.97 916.89 L513.48 915.42 L513.99 914.01 L514.5 912.66 L515.02 911.37 L515.53 910.15 L516.04 909 L516.56 907.91 L517.07 906.89 L517.58 905.95 L518.09 905.08 L518.61 904.28 L519.12 903.56 L519.63 902.91 L520.15 902.34 L520.66 901.85 L521.17 901.43 L521.68 901.1 L522.2 900.84 L522.71 900.67 L523.22 900.57 L523.74 900.55 L524.25 900.62 L524.76 900.76 L525.28 900.99 L525.79 901.29 L526.3 901.68 L526.81 902.14 L527.33 902.68 L527.84 903.29 L528.35 903.99 L528.87 904.76 L529.38 905.6 L529.89 906.52 L530.4 907.5 L530.92 908.56 L531.43 909.69 L531.94 910.88 L532.46 912.15 L532.97 913.47 L533.48 914.86 L533.99 916.3 L534.51 917.81 L535.02 919.37 L535.53 920.99 L536.05 922.65 L536.56 924.37 L537.07 926.14 L537.59 927.95 L538.1 929.81 L538.61 931.7 L539.12 933.64 L539.64 935.61 L540.15 937.61 L540.66 939.64 L541.18 941.71 L541.69 943.8 L542.2 945.91 L542.71 948.05 L543.23 950.21 L543.74 952.38 L544.25 954.57 L544.77 956.77 L545.28 958.98 L545.79 961.19 L546.3 963.41 L546.82 965.64 L547.33 967.87 L547.84 970.09 L548.36 972.31 L548.87 974.53 L549.38 976.74 L549.89 978.94 L550.41 981.12 L550.92 983.3 L551.43 985.46 L551.95 987.61 L552.46 989.73 L552.97 991.84 L553.49 993.93 L554 995.99 L554.51 998.03 L555.02 1000.05 L555.54 1002.04 L556.05 1004 L556.56 1005.94 L557.08 1007.84 L557.59 1009.72 L558.1 1011.56 L558.61 1013.38 L559.13 1015.16 L559.64 1016.91 L560.15 1018.62 L560.67 1020.3 L561.18 1021.95 L561.69 1023.56 L562.2 1025.13 L562.72 1026.67 L563.23 1028.18 L563.74 1029.65 L564.26 1031.08 L564.77 1032.48 L565.28 1033.84 L565.8 1035.16 L566.31 1036.45 L566.82 1037.71 L567.33 1038.93 L567.85 1040.11 L568.36 1041.26 L568.87 1042.38 L569.39 1043.46 L569.9 1044.51 L570.41 1045.52 L570.92 1046.51 L571.44 1047.46 L571.95 1048.37 L572.46 1049.26 L572.98 1050.12 L573.49 1050.95 L574 1051.74 L574.51 1052.51 L575.03 1053.25 L575.54 1053.96 L576.05 1054.65 L576.57 1055.31 L577.08 1055.94 L577.59 1056.55 L578.1 1057.14 L578.62 1057.7 L579.13 1058.24 L579.64 1058.75 L580.16 1059.24 L580.67 1059.72 L581.18 1060.17 L581.7 1060.6 L582.21 1061.01 L582.72 1061.41 L583.23 1061.78 L583.75 1062.14 L584.26 1062.49 L584.77 1062.81 L585.29 1063.12 L585.8 1063.42 L586.31 1063.7 L586.82 1063.97 L587.34 1064.22 L587.85 1064.47 L588.36 1064.7 L588.88 1064.91 L589.39 1065.12 L589.9 1065.32 L590.41 1065.5 L590.93 1065.68 L591.44 1065.84 L591.95 1066 L592.47 1066.15 L592.98 1066.29 L593.49 1066.42 L594.01 1066.55 L594.52 1066.67 L595.03 1066.78 L595.54 1066.88 L596.06 1066.98 L596.57 1067.07 L597.08 1067.16 L597.6 1067.24 L598.11 1067.32 L598.62 1067.39 L599.13 1067.46 L599.65 1067.53 L600.16 1067.59" fill="none" stroke="#ff0a0a" stroke-opacity="0.9" stroke-width="1.1"/>
</g>
<rect x="425.2" y="881.9" width="259.2" height="186.5" fill="none" stroke="#3c3c3c" stroke-width="0.9"/>
<path d="M425.2 1068.4h-2.6M425.2 1059.08h-1.4M425.2 1049.75h-2.6M425.2 1040.43h-1.4M425.2 1031.1h-2.6M425.2 1021.78h-1.4M425.2 1012.45h-2.6M425.2 1003.12h-1.4M425.2 993.8h-2.6M425.2 984.48h-1.4M425.2 975.15h-2.6M425.2 965.83h-1.4M425.2 956.5h-2.6M425.2 947.17h-1.4M425.2 937.85h-2.6M425.2 928.52h-1.4M425.2 919.2h-2.6M425.2 909.88h-1.4M425.2 900.55h-2.6M425.2 891.22h-1.4M425.2 881.9h-2.6M425.2 1068.4v2.6M452.2 1068.4v1.4M479.2 1068.4v2.6M506.2 1068.4v1.4M533.2 1068.4v2.6M560.2 1068.4v1.4M587.2 1068.4v2.6M614.2 1068.4v1.4M641.2 1068.4v2.6M668.2 1068.4v1.4" stroke="#3c3c3c" stroke-width="0.7" fill="none"/>
<g font-size="8.4" fill="#111">
<text x="420.8" y="1071.2" text-anchor="end">0</text>
<text x="420.8" y="1052.55" text-anchor="end">2</text>
<text x="420.8" y="1033.9" text-anchor="end">4</text>
<text x="420.8" y="1015.25" text-anchor="end">6</text>
<text x="420.8" y="996.6" text-anchor="end">8</text>
<text x="420.8" y="977.95" text-anchor="end">10</text>
<text x="420.8" y="959.3" text-anchor="end">12</text>
<text x="420.8" y="940.65" text-anchor="end">14</text>
<text x="420.8" y="922" text-anchor="end">16</text>
<text x="420.8" y="903.35" text-anchor="end">18</text>
<text x="420.8" y="884.7" text-anchor="end">20</text>
<text x="425.2" y="1080.2" text-anchor="middle">−10</text>
<text x="479.2" y="1080.2" text-anchor="middle">−5</text>
<text x="533.2" y="1080.2" text-anchor="middle">0</text>
<text x="587.2" y="1080.2" text-anchor="middle">5</text>
<text x="641.2" y="1080.2" text-anchor="middle">10</text>
</g>
<text x="554.8" y="1094.7" font-size="10.1" text-anchor="middle" fill="#111">Error values of prediction data</text>
<text transform="translate(405.8 975.15) rotate(-90)" font-size="10" text-anchor="middle" fill="#111">Frequency</text>
<text x="540.5" y="1131.8" font-size="15.7" text-anchor="middle" fill="#111">(h)</text>
<rect x="602.1" y="885.8" width="20.4" height="10" fill="#4d4dff"/>
<text x="624.8" y="893.9" font-size="9.1" fill="#111">GEP4 (Test)</text>
<rect x="608.1" y="903.4" width="64.7" height="28.3" fill="#fff"/>
<rect x="608.1" y="903.4" width="64.7" height="9.9" fill="#e4e4e4"/>
<path d="M608.1 903.4H672.8V931.7H608.1ZM608.1 913.3H672.8M608.1 924.6H672.8M620.2 913.3V931.7" stroke="#808080" stroke-width="0.75" fill="none"/>
<clipPath id="tch"><rect x="608.1" y="903.4" width="64.7" height="28.6"/></clipPath>
<g font-size="7.3" fill="#111" clip-path="url(#tch)">
<text x="640.45" y="911.31" text-anchor="middle">Normal</text>
<text x="609.7" y="921.21">mu</text>
<text x="671" y="921.21" text-anchor="end">-0.89069</text>
<text x="609.7" y="930.81">sig</text>
<text x="671" y="930.81" text-anchor="end">2.17193</text>
</g>
</g>
</svg>
</body></html>
